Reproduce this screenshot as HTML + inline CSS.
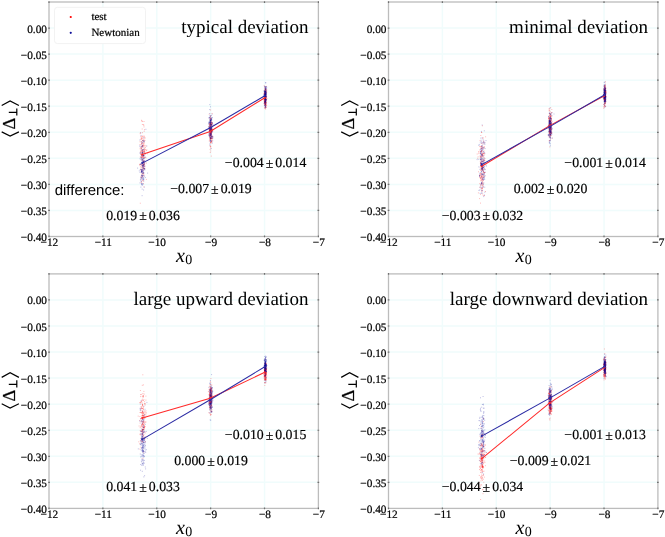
<!DOCTYPE html><html><head><meta charset="utf-8"><style>html,body{margin:0;padding:0;background:#fff;}svg{display:block;will-change:transform;}text{font-family:"Liberation Serif",serif;text-rendering:geometricPrecision;}.b{stroke:#000;stroke-width:0.25px;}.s{stroke:#000;stroke-width:0.18px;}.t{stroke:#000;stroke-width:0.22px;}</style></head><body>
<svg width="665" height="537" viewBox="0 0 665 537">
<rect width="665" height="537" fill="#fff"/>
<g transform="translate(0,0)">
<path d="M102.88 2.0V236.5M156.76 2.0V236.5M210.64 2.0V236.5M264.52 2.0V236.5M49.0 28.06H318.4M49.0 54.11H318.4M49.0 80.17H318.4M49.0 106.22H318.4M49.0 132.28H318.4M49.0 158.33H318.4M49.0 184.39H318.4M49.0 210.44H318.4" stroke="#f0fcfc" stroke-width="1.5" fill="none"/>
<path d="M140.4 159.8h1M143.7 147.3h1M140.2 153.6h1M142.9 169.9h1M140.4 136.4h1M143.3 161.1h1M144.5 168.3h1M142.0 150.7h1M146.1 150.5h1M141.0 138.6h1M142.3 156.5h1M141.7 153.6h1M142.6 164.2h1M143.8 157.4h1M139.5 164.3h1M140.1 152.1h1M140.0 154.5h1M141.0 157.5h1M147.2 153.8h1M143.5 136.0h1M141.8 163.8h1M142.1 159.7h1M142.4 140.4h1M143.0 143.1h1M145.0 147.4h1M143.2 154.5h1M143.6 146.1h1M143.7 152.8h1M144.1 163.2h1M142.4 143.6h1M143.4 161.1h1M144.7 149.2h1M143.0 161.6h1M142.6 157.4h1M142.5 146.1h1M140.7 148.9h1M143.1 175.7h1M143.7 169.2h1M143.4 164.3h1M142.5 165.3h1M144.9 149.9h1M141.2 181.9h1M142.6 168.1h1M143.5 138.6h1M145.9 179.4h1M142.5 165.0h1M142.4 142.1h1M142.0 159.7h1M143.9 164.4h1M142.3 173.5h1M141.1 165.6h1M143.9 150.4h1M139.5 141.8h1M142.6 161.9h1M144.5 140.4h1M142.2 163.6h1M142.0 121.3h1M143.4 186.9h1M143.7 141.7h1M141.6 157.6h1M145.9 163.1h1M142.4 176.3h1M142.1 180.6h1M141.2 147.9h1M143.3 174.4h1M143.2 158.7h1M139.5 144.5h1M141.3 147.0h1M143.1 149.8h1M143.4 155.7h1M141.7 156.2h1M142.8 166.5h1M141.5 151.2h1M140.2 177.0h1M144.4 152.0h1M141.5 137.2h1M142.5 157.4h1M145.5 157.9h1M141.0 120.3h1M144.3 157.2h1M139.8 157.0h1M139.8 203.2h1M143.9 162.5h1M141.9 124.5h1M142.0 132.7h1M143.1 124.6h1M140.8 171.6h1M144.7 138.0h1M139.9 166.8h1M143.5 140.7h1M141.2 144.8h1M140.4 145.0h1M144.1 164.2h1M145.3 153.3h1M142.0 140.7h1M142.0 136.1h1M139.5 164.3h1M144.4 166.2h1M144.2 158.0h1M141.1 155.7h1M141.6 138.9h1M139.7 133.7h1M142.2 156.6h1M141.5 174.5h1M142.5 162.7h1M144.0 143.0h1M139.2 165.0h1M141.2 172.9h1M142.7 168.6h1M143.3 125.4h1M143.3 145.1h1M141.1 148.4h1M143.4 166.9h1M143.7 131.3h1M141.3 121.2h1M142.0 162.9h1M141.1 157.9h1M142.5 168.6h1M141.0 142.9h1M141.1 179.0h1M143.8 152.8h1M142.5 156.1h1M142.5 151.6h1M141.7 136.9h1M141.2 177.6h1M143.0 155.4h1M141.9 155.4h1M142.7 145.5h1M142.5 157.9h1M141.1 143.5h1M140.7 139.6h1M143.5 121.5h1M141.8 145.9h1M141.3 155.9h1M143.9 155.6h1M142.0 145.9h1M142.0 167.3h1M141.6 138.4h1M140.3 139.0h1M140.1 169.9h1M142.7 151.2h1M144.4 145.3h1M143.3 165.7h1M139.9 132.7h1M140.8 167.2h1M144.1 137.3h1M143.8 149.1h1M141.6 146.8h1M141.7 129.0h1M140.7 137.2h1M142.9 183.7h1M146.3 149.8h1M139.6 148.8h1M140.8 182.3h1M143.1 144.3h1M143.6 162.0h1M139.8 147.1h1M141.8 154.8h1M142.4 149.8h1M142.5 146.3h1M140.9 175.7h1M142.7 160.6h1M139.8 152.2h1M143.4 136.4h1M143.8 149.0h1M142.8 152.6h1M142.5 171.3h1M141.6 176.4h1M141.0 141.5h1M143.3 139.6h1M141.6 167.2h1M144.0 129.7h1M143.0 180.9h1M144.0 151.1h1M141.3 150.3h1M140.5 150.8h1M141.9 152.5h1M144.0 151.3h1M140.0 169.2h1M140.6 148.2h1M142.0 149.7h1M140.7 151.0h1M145.5 146.0h1M142.0 170.2h1M143.3 165.2h1M143.5 126.9h1M140.9 156.3h1M142.9 172.6h1M142.9 151.2h1M142.3 151.5h1M142.6 163.9h1M141.7 143.1h1M140.9 169.9h1M144.1 168.4h1M143.5 166.2h1M142.2 163.8h1M140.6 151.7h1M141.1 164.7h1M141.3 153.0h1M142.8 173.5h1M209.5 124.9h1M210.9 123.8h1M210.6 127.5h1M210.1 118.8h1M210.8 128.0h1M209.4 146.0h1M210.8 156.1h1M210.5 129.1h1M210.3 142.7h1M210.2 134.7h1M210.6 125.1h1M210.3 128.0h1M209.1 137.6h1M210.8 132.0h1M209.4 117.5h1M210.6 130.8h1M208.8 131.1h1M208.9 131.3h1M210.3 134.0h1M210.4 132.7h1M209.2 128.8h1M209.8 129.9h1M210.4 135.8h1M211.6 113.5h1M210.5 130.1h1M212.1 138.0h1M208.8 134.3h1M209.8 138.5h1M209.3 130.8h1M210.1 130.8h1M209.7 118.6h1M210.6 138.5h1M210.1 124.4h1M210.4 135.5h1M210.1 131.4h1M211.4 123.7h1M209.7 118.2h1M209.6 126.3h1M209.4 126.6h1M211.7 130.1h1M210.1 146.9h1M210.1 119.4h1M210.5 124.9h1M211.6 122.8h1M209.7 120.3h1M210.3 124.4h1M210.1 128.9h1M209.7 138.1h1M211.0 131.9h1M209.4 124.0h1M210.4 148.2h1M209.8 126.0h1M209.6 123.8h1M209.4 130.1h1M211.4 131.5h1M209.8 120.2h1M210.4 131.3h1M209.2 123.9h1M210.2 138.6h1M210.7 132.9h1M209.9 133.7h1M210.2 146.7h1M209.2 128.9h1M211.3 129.6h1M211.4 131.2h1M210.3 128.9h1M209.0 124.7h1M212.1 136.0h1M210.7 138.2h1M210.7 138.7h1M210.0 129.9h1M211.0 129.0h1M209.1 129.9h1M209.7 135.8h1M209.6 124.1h1M209.9 142.4h1M210.2 132.6h1M210.2 133.6h1M211.0 141.3h1M208.8 141.0h1M210.2 129.3h1M212.2 130.3h1M211.9 138.3h1M209.3 134.9h1M210.8 130.6h1M208.2 129.1h1M210.0 123.7h1M211.8 129.8h1M209.9 129.4h1M209.5 126.1h1M210.3 133.7h1M209.8 130.9h1M209.0 135.2h1M209.6 133.0h1M209.4 127.9h1M210.4 123.0h1M212.3 131.2h1M210.1 126.4h1M211.6 141.2h1M210.5 121.9h1M209.8 135.8h1M209.8 123.2h1M209.2 126.1h1M210.2 127.0h1M210.2 151.0h1M211.7 124.2h1M210.5 132.1h1M210.1 138.8h1M209.9 129.2h1M209.9 130.8h1M211.3 136.9h1M209.1 128.4h1M209.5 137.2h1M210.4 137.7h1M210.1 118.1h1M210.6 133.1h1M210.6 122.4h1M210.3 126.7h1M209.6 134.0h1M210.5 125.3h1M208.7 114.2h1M209.7 139.4h1M210.2 115.7h1M209.5 134.5h1M211.6 139.7h1M210.5 132.9h1M209.3 128.3h1M209.9 126.1h1M210.3 128.8h1M210.5 141.5h1M210.8 134.4h1M210.0 120.9h1M210.1 135.3h1M209.3 140.3h1M209.9 134.1h1M209.9 122.7h1M212.0 123.4h1M211.0 127.6h1M210.4 125.9h1M209.8 137.9h1M211.9 125.6h1M210.2 138.1h1M209.7 136.5h1M209.5 135.7h1M210.6 140.0h1M210.5 123.1h1M210.8 123.8h1M210.8 142.1h1M210.7 127.6h1M211.2 132.7h1M209.1 129.0h1M211.4 129.4h1M210.3 129.1h1M208.8 127.9h1M210.5 133.0h1M210.1 116.6h1M211.2 136.5h1M211.1 140.6h1M209.8 127.3h1M210.5 143.2h1M208.8 129.9h1M209.6 135.4h1M211.4 129.4h1M209.1 131.8h1M210.0 120.7h1M211.0 127.8h1M210.8 122.3h1M211.1 121.4h1M211.1 118.8h1M211.4 128.9h1M208.9 129.9h1M210.5 124.6h1M209.8 133.4h1M210.1 110.0h1M209.8 134.5h1M210.5 138.6h1M209.6 149.4h1M210.9 133.7h1M211.1 138.2h1M210.3 127.2h1M211.1 134.5h1M208.6 123.8h1M210.6 132.3h1M210.4 136.0h1M210.3 142.6h1M209.7 128.7h1M210.5 136.7h1M210.9 141.9h1M209.8 139.7h1M210.6 124.2h1M210.1 146.1h1M210.9 128.2h1M208.2 126.4h1M209.6 132.0h1M212.2 136.7h1M210.5 125.0h1M209.2 130.0h1M209.8 152.5h1M209.9 127.2h1M211.2 132.0h1M264.1 104.1h1M264.6 91.1h1M265.0 100.1h1M264.6 101.2h1M265.3 93.3h1M263.7 85.7h1M264.7 103.9h1M265.4 104.7h1M265.8 97.8h1M265.4 90.1h1M265.2 99.7h1M264.7 95.5h1M264.2 98.4h1M265.5 95.9h1M265.1 94.4h1M264.9 92.7h1M265.0 96.6h1M265.0 94.7h1M264.2 96.1h1M265.4 105.6h1M264.6 101.7h1M265.2 99.7h1M263.9 99.3h1M264.3 103.6h1M265.2 100.8h1M263.4 100.8h1M265.2 91.3h1M265.3 98.1h1M264.7 94.1h1M264.2 95.5h1M266.5 98.7h1M264.9 94.5h1M264.5 94.9h1M264.3 102.1h1M264.7 102.0h1M264.2 102.3h1M264.8 101.0h1M264.7 93.3h1M265.5 95.5h1M264.7 93.3h1M264.9 95.8h1M265.0 99.4h1M264.4 90.6h1M265.0 102.3h1M265.2 92.0h1M265.1 99.6h1M265.0 99.8h1M264.6 98.8h1M265.3 95.2h1M264.0 97.2h1M264.9 88.5h1M264.4 100.6h1M264.7 98.2h1M264.1 102.2h1M265.8 96.7h1M264.4 91.9h1M265.3 98.2h1M264.4 103.8h1M265.2 100.7h1M263.8 97.2h1M265.1 91.6h1M265.3 104.9h1M265.4 94.1h1M264.4 102.4h1M265.3 103.8h1M265.5 97.2h1M264.6 88.4h1M265.2 109.1h1M264.5 95.3h1M265.2 99.6h1M264.0 94.1h1M264.2 107.8h1M264.4 102.0h1M265.9 107.2h1M265.6 105.8h1M264.1 96.0h1M264.4 96.2h1M266.2 89.3h1M265.1 91.5h1M265.5 104.2h1M264.5 108.0h1M264.8 104.2h1M265.0 94.9h1M264.6 97.1h1M265.1 98.3h1M266.1 96.7h1M264.5 94.1h1M264.4 90.5h1M264.3 102.2h1M264.8 96.8h1M265.0 103.0h1M265.1 101.6h1M264.5 96.4h1M264.4 97.2h1M264.4 95.8h1M264.7 96.6h1M264.7 95.2h1M265.5 96.0h1M264.2 98.7h1M264.2 92.3h1M264.8 89.4h1M263.0 99.1h1M265.4 89.3h1M264.3 100.6h1M263.7 93.3h1M264.1 96.7h1M263.7 102.2h1M264.7 99.2h1M264.6 87.1h1M264.7 91.0h1M264.8 93.4h1M264.6 96.6h1M265.2 101.5h1M264.2 97.6h1M265.6 100.2h1M264.4 97.1h1M264.6 102.4h1M264.8 99.6h1M266.0 90.8h1M264.2 89.0h1M263.9 102.0h1M265.0 105.9h1M263.7 93.3h1M265.6 102.8h1M265.3 102.1h1M264.8 97.6h1M264.8 101.9h1M264.7 99.3h1M265.6 92.1h1M264.4 100.5h1M264.7 96.9h1M266.0 99.8h1M264.6 103.2h1M266.2 92.2h1M264.4 98.3h1M264.5 108.6h1M265.1 95.7h1M265.1 93.7h1M264.5 98.2h1M266.1 86.4h1M265.0 104.5h1M265.2 107.3h1M265.0 98.4h1M264.7 93.4h1M265.7 91.8h1M264.7 95.1h1M264.4 86.6h1M264.6 98.4h1M264.9 101.9h1M264.7 94.5h1M265.0 101.0h1M264.3 90.1h1M264.2 103.0h1M265.3 93.3h1M264.9 101.9h1M265.5 94.4h1M264.7 104.7h1M266.1 105.3h1M264.2 99.9h1M264.6 97.4h1M264.4 95.3h1M264.8 106.7h1M265.2 99.8h1M264.8 93.9h1M264.7 103.9h1M265.3 107.5h1M264.9 97.6h1M263.9 99.7h1M263.9 105.3h1M264.5 97.7h1M264.1 95.2h1M264.3 103.4h1M264.9 91.8h1M263.7 97.4h1M264.5 92.1h1M265.1 96.8h1M264.9 94.7h1M264.5 95.4h1M263.9 100.8h1M265.0 89.1h1M264.9 103.5h1M264.9 104.2h1M264.7 97.7h1M264.1 93.2h1M263.8 93.2h1M264.9 100.3h1M265.4 98.4h1M264.3 99.9h1M264.7 106.6h1M265.9 102.5h1M264.2 95.1h1M264.9 94.1h1M265.1 101.1h1M265.3 98.8h1M264.3 93.5h1M264.7 104.3h1M265.7 102.6h1M265.0 101.1h1M265.3 104.2h1M265.3 90.0h1" stroke="#ff0000" stroke-opacity="0.3" stroke-width="0.9" fill="none"/>
<path d="M143.6 168.5h1M141.5 170.5h1M142.6 162.3h1M139.7 164.7h1M143.0 162.4h1M139.8 169.5h1M143.3 165.6h1M142.8 158.2h1M141.2 170.4h1M141.7 165.7h1M147.1 173.1h1M142.4 140.4h1M142.3 173.7h1M141.1 159.8h1M138.8 170.9h1M141.3 172.7h1M144.2 160.8h1M143.7 166.6h1M141.9 159.2h1M140.9 181.1h1M143.5 149.0h1M143.5 152.9h1M139.9 179.9h1M140.3 179.7h1M142.5 175.7h1M143.0 179.3h1M142.7 171.2h1M142.6 178.4h1M141.6 177.3h1M144.5 162.2h1M142.9 155.9h1M141.8 166.8h1M141.7 150.7h1M142.2 165.8h1M142.7 173.0h1M139.5 182.9h1M141.9 152.3h1M141.6 169.3h1M143.5 158.0h1M142.4 140.8h1M142.5 161.5h1M141.6 175.5h1M144.9 177.6h1M141.0 184.5h1M141.7 162.5h1M141.3 169.5h1M143.0 165.1h1M141.9 161.1h1M141.6 176.7h1M141.4 161.0h1M141.9 152.6h1M141.9 142.6h1M142.8 170.7h1M141.8 184.8h1M141.0 170.9h1M142.9 155.6h1M141.8 175.5h1M142.3 167.0h1M144.3 166.1h1M139.7 152.8h1M143.4 161.3h1M140.6 135.5h1M142.7 184.0h1M140.3 132.9h1M142.9 155.6h1M141.8 158.6h1M140.9 169.2h1M143.6 168.2h1M141.4 177.6h1M142.0 171.2h1M140.8 172.2h1M143.3 181.0h1M142.2 169.3h1M141.3 175.4h1M143.4 178.1h1M141.6 146.2h1M142.1 160.2h1M141.1 171.5h1M143.6 168.6h1M143.9 168.6h1M140.8 155.0h1M141.7 172.6h1M143.6 165.0h1M143.7 151.7h1M142.0 183.8h1M142.9 177.6h1M139.4 140.0h1M140.9 177.0h1M144.6 154.6h1M140.7 149.1h1M140.9 170.8h1M141.7 189.1h1M143.3 153.7h1M142.6 161.0h1M143.4 175.6h1M141.7 175.4h1M143.0 162.0h1M142.6 172.5h1M141.7 153.8h1M144.1 163.2h1M141.3 169.5h1M140.0 163.9h1M140.2 157.3h1M139.6 153.3h1M143.5 160.6h1M140.4 187.1h1M141.3 183.6h1M141.4 143.0h1M144.9 157.2h1M143.3 179.5h1M140.3 164.2h1M141.4 171.5h1M142.2 145.8h1M142.3 173.7h1M141.8 170.9h1M141.4 162.5h1M142.7 165.1h1M144.1 176.2h1M143.4 173.1h1M142.4 147.2h1M143.8 187.1h1M142.5 159.7h1M142.2 179.8h1M142.6 149.7h1M142.0 152.7h1M141.9 150.9h1M140.9 183.5h1M143.7 141.1h1M140.8 157.1h1M141.6 144.3h1M143.5 141.1h1M143.2 172.7h1M141.7 154.2h1M142.3 165.2h1M139.1 146.0h1M143.0 161.7h1M141.6 149.6h1M141.2 152.8h1M146.3 146.0h1M144.5 169.8h1M142.5 165.9h1M141.7 185.2h1M143.0 162.8h1M142.0 165.9h1M140.5 158.9h1M141.3 171.7h1M143.1 137.7h1M141.9 176.7h1M140.3 147.0h1M143.7 161.4h1M141.6 146.6h1M142.5 155.6h1M142.5 169.0h1M143.2 158.8h1M141.4 163.6h1M142.1 165.6h1M141.4 160.0h1M141.4 155.2h1M142.4 179.0h1M141.4 171.2h1M142.7 164.7h1M143.2 155.6h1M143.0 167.3h1M137.1 168.1h1M143.1 190.0h1M140.7 164.5h1M142.7 149.9h1M144.0 169.4h1M141.0 146.8h1M141.6 195.7h1M145.4 129.3h1M139.5 172.4h1M142.1 154.5h1M143.1 164.5h1M142.6 166.8h1M140.6 181.3h1M141.5 178.7h1M143.2 163.7h1M142.4 162.6h1M139.5 158.8h1M142.8 141.1h1M140.0 178.0h1M143.4 142.0h1M142.9 162.5h1M143.6 158.7h1M141.9 152.9h1M142.5 161.5h1M141.2 158.4h1M141.1 171.8h1M140.7 141.8h1M140.8 178.1h1M141.5 172.1h1M143.3 156.2h1M143.3 170.1h1M142.1 153.5h1M142.1 145.5h1M141.8 155.2h1M142.9 167.9h1M141.3 175.1h1M144.0 164.1h1M209.6 131.3h1M208.2 123.8h1M210.7 141.6h1M209.6 138.4h1M212.2 140.8h1M208.2 135.4h1M210.4 134.8h1M210.1 123.6h1M210.0 138.2h1M210.9 125.8h1M210.5 133.8h1M210.7 127.5h1M209.7 122.7h1M209.8 124.0h1M208.9 118.0h1M210.9 120.1h1M209.1 127.5h1M211.4 136.6h1M209.9 120.7h1M209.8 121.5h1M209.7 131.2h1M209.3 122.4h1M210.0 127.6h1M209.6 122.3h1M209.2 122.6h1M210.6 126.1h1M207.6 132.1h1M210.1 121.8h1M210.0 106.8h1M208.8 135.9h1M212.0 143.0h1M209.6 128.1h1M210.9 119.3h1M211.7 122.8h1M210.5 119.8h1M210.5 127.7h1M211.1 119.8h1M210.2 140.5h1M209.2 130.3h1M210.6 124.3h1M210.0 137.7h1M211.2 131.8h1M210.4 119.9h1M210.3 140.3h1M211.1 118.3h1M208.4 123.2h1M210.3 124.0h1M209.9 130.2h1M211.0 129.3h1M211.3 117.8h1M210.6 130.8h1M208.9 136.6h1M208.8 117.7h1M212.5 136.9h1M210.5 137.3h1M211.2 119.9h1M210.6 137.6h1M210.1 128.3h1M209.8 133.0h1M209.7 123.7h1M209.2 121.3h1M210.4 131.1h1M209.9 120.4h1M210.5 130.3h1M211.3 124.3h1M209.8 131.4h1M211.5 127.5h1M210.1 121.2h1M209.9 134.5h1M210.9 135.7h1M208.8 133.7h1M209.4 132.0h1M208.2 127.1h1M209.4 136.8h1M210.3 137.0h1M209.8 141.7h1M209.8 141.2h1M209.8 120.9h1M211.0 125.0h1M210.2 118.3h1M209.9 128.6h1M209.6 130.6h1M208.2 134.1h1M209.9 138.2h1M209.9 123.2h1M209.8 129.8h1M210.7 124.5h1M209.5 130.9h1M210.9 115.5h1M209.3 123.1h1M211.7 136.5h1M210.9 131.3h1M209.2 135.8h1M209.8 122.2h1M211.9 117.6h1M211.4 129.2h1M209.4 129.1h1M209.5 129.1h1M209.6 119.4h1M212.5 124.3h1M211.1 127.5h1M210.8 118.9h1M209.3 104.6h1M211.1 131.0h1M209.2 133.7h1M210.7 148.6h1M210.4 134.3h1M210.7 133.3h1M210.2 124.9h1M210.8 136.6h1M209.2 119.8h1M210.2 140.6h1M210.0 115.8h1M210.9 133.2h1M211.9 129.2h1M211.9 122.7h1M211.0 128.8h1M209.2 125.9h1M211.3 135.7h1M209.9 135.7h1M211.0 134.2h1M210.5 130.0h1M209.5 127.4h1M210.3 122.6h1M210.0 129.0h1M210.4 135.3h1M209.3 125.0h1M210.4 125.2h1M210.5 124.5h1M211.2 126.2h1M209.2 133.1h1M211.6 114.2h1M210.1 128.3h1M211.1 138.4h1M210.1 116.8h1M210.8 135.0h1M210.6 128.4h1M209.5 145.1h1M209.2 117.2h1M211.0 129.9h1M210.8 130.4h1M211.7 137.9h1M209.7 134.9h1M209.2 115.8h1M211.2 124.8h1M208.4 127.7h1M209.6 131.4h1M210.2 122.4h1M209.6 133.3h1M209.4 128.8h1M209.4 131.0h1M211.7 131.9h1M211.2 131.0h1M209.4 125.7h1M210.3 131.0h1M209.7 132.2h1M209.6 128.3h1M210.2 119.7h1M211.1 128.2h1M210.3 127.6h1M208.4 117.9h1M209.4 134.9h1M209.7 132.1h1M209.3 121.9h1M209.8 135.3h1M208.8 126.6h1M210.6 128.8h1M210.2 133.4h1M210.5 120.7h1M210.7 122.3h1M209.9 138.1h1M212.3 138.1h1M210.6 122.4h1M209.6 139.6h1M210.5 118.1h1M211.6 131.9h1M211.3 130.7h1M208.4 122.6h1M210.1 126.7h1M211.5 123.1h1M210.1 127.4h1M210.1 120.5h1M209.2 109.6h1M210.5 126.4h1M210.4 120.4h1M210.2 121.0h1M209.3 130.2h1M210.8 132.0h1M210.2 125.1h1M211.4 136.6h1M209.7 120.2h1M210.5 130.1h1M209.4 143.9h1M208.4 122.0h1M210.4 134.8h1M208.6 124.8h1M211.4 137.8h1M210.0 128.1h1M209.4 130.6h1M209.3 113.5h1M264.0 96.1h1M264.1 101.4h1M265.5 100.9h1M265.2 101.5h1M265.0 100.2h1M265.1 99.8h1M264.2 92.5h1M264.3 100.0h1M265.1 91.9h1M264.3 92.9h1M265.3 95.3h1M264.7 92.4h1M264.7 103.9h1M264.4 94.1h1M265.7 99.5h1M264.2 101.3h1M264.1 98.6h1M263.4 90.8h1M265.3 92.8h1M264.4 96.1h1M264.8 93.5h1M264.4 104.9h1M265.6 97.5h1M264.2 93.2h1M264.6 98.3h1M265.7 93.2h1M264.9 93.7h1M264.9 92.4h1M265.0 101.7h1M264.6 94.2h1M264.9 89.2h1M265.8 89.1h1M264.6 91.4h1M265.6 93.4h1M264.5 105.3h1M264.7 91.9h1M264.8 96.8h1M264.4 94.9h1M264.7 99.5h1M265.2 100.0h1M264.7 99.9h1M264.7 101.7h1M265.0 93.7h1M265.5 88.2h1M264.3 91.8h1M264.7 89.6h1M264.1 86.3h1M264.9 92.0h1M266.0 99.7h1M264.2 102.5h1M264.9 101.3h1M264.2 101.7h1M265.4 93.7h1M264.3 93.9h1M265.0 108.0h1M265.8 103.4h1M264.7 94.2h1M265.0 94.5h1M264.5 94.8h1M265.3 95.5h1M264.9 94.5h1M264.7 94.2h1M265.5 97.0h1M265.6 95.0h1M265.4 88.9h1M264.6 95.5h1M264.5 95.3h1M264.3 95.0h1M264.4 95.8h1M264.6 90.8h1M264.6 96.0h1M264.1 96.3h1M265.5 94.7h1M265.1 99.0h1M264.4 102.5h1M266.2 90.7h1M266.0 92.3h1M265.6 86.7h1M265.4 96.5h1M264.1 91.7h1M264.2 91.3h1M265.0 94.9h1M263.4 94.3h1M265.1 96.3h1M265.7 86.6h1M264.9 96.0h1M265.2 89.1h1M264.1 95.0h1M264.8 86.7h1M265.0 95.8h1M265.2 82.7h1M265.1 91.4h1M264.5 99.8h1M265.7 96.6h1M264.7 102.4h1M264.3 95.1h1M264.5 90.9h1M264.9 106.1h1M264.9 98.3h1M264.8 101.5h1M264.9 91.4h1M264.9 103.1h1M264.8 101.9h1M264.8 106.0h1M265.0 99.1h1M264.6 100.0h1M264.7 88.4h1M265.0 89.8h1M265.6 99.8h1M264.8 99.3h1M263.4 103.6h1M264.4 99.2h1M266.2 87.7h1M264.6 97.6h1M265.0 87.3h1M264.3 103.3h1M264.5 98.6h1M264.0 91.3h1M263.8 97.2h1M265.4 96.3h1M264.7 97.1h1M265.1 94.4h1M265.1 105.7h1M266.0 93.0h1M264.1 105.5h1M265.3 102.0h1M265.1 94.7h1M265.3 101.5h1M265.5 90.4h1M265.4 94.1h1M264.6 97.6h1M264.6 107.5h1M265.1 97.2h1M264.7 97.1h1M264.7 98.8h1M265.3 100.1h1M264.1 94.2h1M264.9 89.7h1M265.0 95.1h1M264.8 97.8h1M264.5 103.7h1M265.4 93.1h1M265.1 99.6h1M264.4 94.1h1M265.2 82.9h1M264.1 97.5h1M265.1 91.2h1M265.3 107.0h1M264.9 95.6h1M264.8 90.8h1M265.1 96.8h1M265.2 103.0h1M264.8 96.8h1M265.0 104.6h1M264.0 95.8h1M264.5 96.5h1M265.3 96.2h1M265.2 96.8h1M264.4 92.5h1M264.0 97.0h1M264.6 100.1h1M265.3 91.4h1M264.2 98.9h1M264.3 96.9h1M265.1 93.9h1M265.8 92.0h1M265.0 93.8h1M263.2 95.0h1M264.7 98.8h1M264.7 92.2h1M264.5 94.3h1M265.2 94.5h1M265.5 100.2h1M264.4 101.0h1M263.6 96.0h1M264.3 95.4h1M265.4 95.9h1M264.7 102.3h1M264.4 91.7h1M265.3 98.9h1M264.0 96.6h1M265.2 95.0h1M264.6 96.5h1M264.9 92.3h1M265.3 87.9h1M264.8 106.6h1M264.2 95.7h1M263.6 91.7h1M264.2 96.2h1M264.5 105.1h1M264.3 95.7h1M264.9 99.1h1M265.3 88.0h1M266.0 94.3h1M264.4 87.6h1M264.6 87.0h1M264.9 92.8h1M265.0 91.9h1M264.8 107.0h1M265.5 96.7h1" stroke="#10109a" stroke-opacity="0.3" stroke-width="0.9" fill="none"/>
<path d="M142.20 154.50 L210.20 131.50 L264.80 97.70" stroke="#ff2a2a" stroke-width="1.05" fill="none"/>
<circle cx="142.20" cy="154.50" r="1.05" fill="#ff2a2a"/>
<circle cx="210.20" cy="131.50" r="1.05" fill="#ff2a2a"/>
<circle cx="264.80" cy="97.70" r="1.05" fill="#ff2a2a"/>
<path d="M142.20 163.10 L210.20 127.80 L264.80 95.80" stroke="#2c2ca4" stroke-width="1.05" fill="none"/>
<circle cx="142.20" cy="163.10" r="1.05" fill="#2c2ca4"/>
<circle cx="210.20" cy="127.80" r="1.05" fill="#2c2ca4"/>
<circle cx="264.80" cy="95.80" r="1.05" fill="#2c2ca4"/>
<rect x="49.0" y="2.0" width="269.40" height="234.50" fill="none" stroke="#bcbcbc" stroke-width="1.3"/>
<path d="M49.00 235.60V237.30M49.00 1.20V2.90M102.88 235.60V237.30M102.88 1.20V2.90M156.76 235.60V237.30M156.76 1.20V2.90M210.64 235.60V237.30M210.64 1.20V2.90M264.52 235.60V237.30M264.52 1.20V2.90M318.40 235.60V237.30M318.40 1.20V2.90M48.20 28.06H49.90M317.50 28.06H319.20M48.20 54.11H49.90M317.50 54.11H319.20M48.20 80.17H49.90M317.50 80.17H319.20M48.20 106.22H49.90M317.50 106.22H319.20M48.20 132.28H49.90M317.50 132.28H319.20M48.20 158.33H49.90M317.50 158.33H319.20M48.20 184.39H49.90M317.50 184.39H319.20M48.20 210.44H49.90M317.50 210.44H319.20" stroke="#707070" stroke-width="1.2" fill="none"/>
<text x="47.0" y="32.56" font-size="11.3" text-anchor="end" class="t" fill="#000">0.00</text>
<text x="47.0" y="58.61" font-size="11.3" text-anchor="end" class="t" fill="#000">−0.05</text>
<text x="47.0" y="84.67" font-size="11.3" text-anchor="end" class="t" fill="#000">−0.10</text>
<text x="47.0" y="110.72" font-size="11.3" text-anchor="end" class="t" fill="#000">−0.15</text>
<text x="47.0" y="136.78" font-size="11.3" text-anchor="end" class="t" fill="#000">−0.20</text>
<text x="47.0" y="162.83" font-size="11.3" text-anchor="end" class="t" fill="#000">−0.25</text>
<text x="47.0" y="188.89" font-size="11.3" text-anchor="end" class="t" fill="#000">−0.30</text>
<text x="47.0" y="214.94" font-size="11.3" text-anchor="end" class="t" fill="#000">−0.35</text>
<text x="47.0" y="241.00" font-size="11.3" text-anchor="end" class="t" fill="#000">−0.40</text>
<text x="49.40" y="245.80" font-size="11.3" text-anchor="middle" class="t" fill="#000">−12</text>
<text x="103.28" y="245.80" font-size="11.3" text-anchor="middle" class="t" fill="#000">−11</text>
<text x="157.16" y="245.80" font-size="11.3" text-anchor="middle" class="t" fill="#000">−10</text>
<text x="211.04" y="245.80" font-size="11.3" text-anchor="middle" class="t" fill="#000">−9</text>
<text x="264.92" y="245.80" font-size="11.3" text-anchor="middle" class="t" fill="#000">−8</text>
<text x="318.80" y="245.80" font-size="11.3" text-anchor="middle" class="t" fill="#000">−7</text>
<text x="176.10" y="262.10" font-size="20" font-style="italic" fill="#000">x</text>
<text x="185.30" y="264.30" font-size="14" fill="#000">0</text>
<g stroke="#000" fill="none" stroke-width="1.2"><path d="M1.7 105.5L10.1 100.9L18.9 105.5"/><path d="M1.7 131.9L10.1 136.1L18.9 131.9"/><path d="M8.8 112.4H16.8M16.8 108.4V115.6"/></g>
<text class="b" transform="translate(14.9,129.6) rotate(-90)" font-size="18.2" fill="#000">Δ</text>
<text x="308.40" y="33.30" font-size="19" text-anchor="end" fill="#000">typical deviation</text>
<text x="143.00" y="219.54" font-size="13.8" text-anchor="middle" class="s" fill="#000">0.019<tspan dx="2" dy="0.8">±</tspan><tspan dx="2" dy="-0.8">0.036</tspan></text>
<text x="211.00" y="193.49" font-size="13.8" text-anchor="middle" class="s" fill="#000">−0.007<tspan dx="2" dy="0.8">±</tspan><tspan dx="2" dy="-0.8">0.019</tspan></text>
<text x="265.60" y="167.43" font-size="13.8" text-anchor="middle" class="s" fill="#000">−0.004<tspan dx="2" dy="0.8">±</tspan><tspan dx="2" dy="-0.8">0.014</tspan></text>
<rect x="54.5" y="7.3" width="91" height="36.3" rx="3" fill="#fff" stroke="#f2f2f2" stroke-width="1"/>
<circle cx="70.75" cy="17" r="1.1" fill="#ff0000"/>
<circle cx="70.75" cy="32.8" r="1.1" fill="#10109a"/>
<text x="91.4" y="20" font-size="11" class="t" fill="#000">test</text>
<text x="91.4" y="36.3" font-size="11" class="t" fill="#000">Newtonian</text>
<text x="54.7" y="194.6" font-size="15" fill="#000" style="font-family:'Liberation Sans',sans-serif">difference:</text>
</g>
<g transform="translate(339.5,0)">
<path d="M102.88 2.0V236.5M156.76 2.0V236.5M210.64 2.0V236.5M264.52 2.0V236.5M49.0 28.06H318.4M49.0 54.11H318.4M49.0 80.17H318.4M49.0 106.22H318.4M49.0 132.28H318.4M49.0 158.33H318.4M49.0 184.39H318.4M49.0 210.44H318.4" stroke="#f0fcfc" stroke-width="1.5" fill="none"/>
<path d="M140.7 187.0h1M139.7 146.6h1M144.2 158.0h1M144.2 174.5h1M145.5 191.5h1M143.1 157.6h1M143.1 186.1h1M142.4 125.8h1M141.6 161.2h1M142.1 161.5h1M143.9 148.6h1M142.9 138.5h1M138.9 152.2h1M141.1 153.8h1M141.2 175.0h1M143.1 167.5h1M142.5 156.6h1M140.7 146.4h1M141.6 150.5h1M141.7 176.5h1M143.0 185.0h1M140.8 135.5h1M140.5 194.3h1M143.3 160.2h1M144.2 160.5h1M144.7 160.7h1M141.6 176.1h1M140.5 164.0h1M145.1 172.5h1M140.5 162.8h1M142.2 155.7h1M142.8 183.8h1M142.3 178.8h1M142.6 168.3h1M141.1 179.8h1M144.2 160.0h1M140.9 173.6h1M142.4 182.1h1M142.9 164.5h1M140.1 175.0h1M142.3 148.5h1M140.0 140.7h1M143.1 160.2h1M137.2 154.0h1M141.2 164.7h1M142.3 161.5h1M143.3 180.7h1M141.9 188.4h1M142.0 154.2h1M142.4 146.2h1M141.7 151.4h1M141.6 169.0h1M138.5 171.8h1M142.6 163.2h1M143.3 171.1h1M141.6 152.2h1M143.3 176.9h1M140.0 156.0h1M140.4 177.9h1M141.3 148.7h1M144.5 172.6h1M142.5 169.7h1M141.9 166.7h1M143.5 172.5h1M141.5 167.6h1M145.0 158.5h1M140.2 167.9h1M140.5 203.1h1M143.1 174.5h1M142.7 193.9h1M140.7 165.5h1M139.7 183.7h1M142.1 191.1h1M141.8 151.6h1M141.1 177.5h1M141.0 169.8h1M141.1 156.2h1M141.3 189.0h1M140.6 170.7h1M143.4 155.7h1M139.9 187.3h1M144.8 162.7h1M140.4 178.4h1M142.1 154.6h1M141.6 132.5h1M141.0 149.0h1M140.2 174.4h1M142.6 190.0h1M138.1 156.8h1M140.9 184.8h1M143.7 167.8h1M142.3 155.5h1M141.4 159.8h1M138.4 192.9h1M143.3 195.5h1M144.0 173.1h1M143.4 142.3h1M140.6 178.1h1M141.6 143.3h1M142.2 147.9h1M142.2 188.2h1M140.5 159.7h1M143.0 165.7h1M142.5 154.1h1M141.7 132.4h1M141.9 184.2h1M140.5 163.4h1M143.2 183.3h1M143.9 153.5h1M141.5 190.9h1M141.5 170.1h1M140.9 156.7h1M137.7 158.3h1M138.8 151.6h1M140.7 185.2h1M143.3 171.7h1M141.4 146.3h1M142.9 154.2h1M142.0 179.3h1M141.9 165.6h1M140.7 180.8h1M143.0 176.0h1M144.6 142.9h1M142.2 175.1h1M142.7 170.3h1M142.9 144.2h1M142.0 182.5h1M142.1 163.2h1M143.4 141.1h1M142.8 187.5h1M141.8 154.2h1M143.0 159.5h1M140.9 168.3h1M139.6 175.4h1M140.3 158.1h1M143.3 165.5h1M142.6 185.5h1M144.5 195.6h1M141.3 179.0h1M139.6 177.3h1M144.1 155.6h1M142.9 177.8h1M141.9 156.9h1M144.5 147.2h1M142.4 179.5h1M142.5 188.4h1M144.4 172.6h1M144.9 176.6h1M140.3 161.3h1M142.6 168.7h1M139.6 198.6h1M139.8 149.9h1M142.8 168.8h1M144.5 169.1h1M142.7 176.3h1M141.0 147.6h1M141.5 180.4h1M141.7 183.7h1M141.3 176.7h1M142.2 177.9h1M142.2 168.8h1M141.5 183.7h1M142.1 173.1h1M143.2 153.3h1M140.9 165.4h1M144.1 151.0h1M140.6 152.0h1M141.6 150.9h1M140.9 173.5h1M140.5 165.9h1M140.4 163.2h1M143.0 137.6h1M142.3 169.2h1M142.1 169.7h1M142.8 147.6h1M142.0 175.2h1M144.1 146.7h1M141.3 146.7h1M142.1 150.9h1M140.7 177.0h1M145.6 136.8h1M144.7 153.0h1M143.2 171.1h1M144.0 163.1h1M140.9 165.2h1M143.4 153.4h1M142.8 166.0h1M142.4 166.2h1M143.1 177.5h1M141.7 161.1h1M138.9 153.6h1M139.9 175.7h1M140.5 156.2h1M143.0 180.1h1M144.0 154.0h1M142.5 181.2h1M140.9 162.9h1M140.3 157.0h1M143.3 167.4h1M141.6 158.2h1M211.5 130.8h1M209.1 140.8h1M209.8 124.4h1M209.8 121.5h1M210.7 115.3h1M210.2 123.2h1M211.7 128.3h1M210.6 129.2h1M210.7 126.4h1M208.1 128.5h1M209.9 130.5h1M210.5 121.7h1M209.4 118.3h1M210.4 124.8h1M209.4 122.9h1M210.5 120.8h1M210.1 121.2h1M208.0 126.2h1M210.2 131.2h1M211.3 120.4h1M210.7 127.4h1M210.3 131.4h1M210.9 116.6h1M211.5 124.3h1M209.6 120.6h1M210.0 117.6h1M211.1 128.5h1M209.4 131.3h1M210.4 126.1h1M211.0 124.9h1M210.0 129.1h1M208.6 117.1h1M210.6 133.1h1M208.8 125.6h1M209.6 123.5h1M210.7 136.0h1M211.7 132.2h1M210.7 126.5h1M208.6 128.3h1M209.2 117.7h1M210.3 114.4h1M211.7 129.8h1M210.5 128.9h1M210.4 126.0h1M210.8 120.8h1M210.4 126.7h1M210.9 117.8h1M210.4 124.6h1M210.7 129.3h1M210.4 128.8h1M210.6 135.1h1M210.5 129.3h1M209.4 124.1h1M210.8 132.9h1M209.4 125.3h1M210.0 125.9h1M209.8 122.6h1M210.1 126.4h1M211.1 119.6h1M209.4 131.1h1M210.6 124.2h1M209.2 132.9h1M209.3 133.5h1M210.4 124.5h1M210.0 131.3h1M210.2 113.3h1M209.6 110.5h1M210.5 132.0h1M211.1 116.1h1M212.0 138.3h1M210.1 111.6h1M209.4 132.9h1M212.0 121.8h1M208.6 118.8h1M211.8 125.5h1M209.0 110.8h1M210.7 131.2h1M209.8 124.1h1M210.3 123.1h1M209.7 121.5h1M209.7 134.2h1M210.5 132.7h1M211.8 109.5h1M210.1 132.3h1M210.0 121.3h1M210.5 121.8h1M209.5 123.4h1M210.2 125.6h1M211.0 125.7h1M209.8 146.9h1M210.0 123.6h1M210.1 120.6h1M208.8 126.9h1M211.4 112.8h1M209.5 128.5h1M209.6 129.2h1M210.2 117.8h1M210.0 121.9h1M210.7 107.7h1M210.5 134.9h1M210.3 127.2h1M209.7 127.9h1M210.1 116.5h1M209.2 109.3h1M210.6 126.7h1M211.1 127.3h1M210.8 116.1h1M208.6 121.5h1M209.9 128.1h1M210.1 124.4h1M210.2 127.3h1M210.4 127.8h1M209.8 124.9h1M208.9 117.7h1M210.0 128.5h1M209.5 115.7h1M211.0 119.7h1M208.7 118.7h1M209.2 108.6h1M209.9 137.4h1M209.6 119.8h1M211.2 126.1h1M210.1 135.1h1M209.2 125.1h1M210.6 126.9h1M209.2 119.0h1M211.7 124.9h1M210.0 133.1h1M208.7 125.1h1M208.7 135.3h1M209.3 126.3h1M209.4 126.4h1M210.5 125.6h1M209.9 127.3h1M210.0 122.0h1M210.7 131.5h1M209.0 118.5h1M209.5 127.6h1M209.0 136.4h1M210.2 126.6h1M210.9 120.3h1M210.5 128.4h1M211.3 118.2h1M211.4 129.7h1M210.4 133.0h1M210.0 124.2h1M210.9 123.1h1M211.1 135.2h1M210.4 126.8h1M209.6 119.2h1M211.4 118.4h1M210.3 127.6h1M209.4 120.8h1M209.6 140.4h1M210.5 135.3h1M211.9 132.7h1M211.3 122.5h1M209.6 135.8h1M211.4 118.5h1M211.2 127.7h1M210.9 132.4h1M211.8 121.3h1M210.2 134.5h1M210.0 129.5h1M210.1 113.8h1M209.7 131.9h1M209.7 114.9h1M209.8 126.4h1M210.6 128.0h1M210.7 118.3h1M209.7 120.3h1M209.8 128.8h1M211.3 124.1h1M211.1 133.5h1M209.2 120.0h1M210.3 116.1h1M211.8 112.6h1M209.2 131.2h1M209.6 130.7h1M209.4 133.1h1M209.7 130.8h1M211.1 115.3h1M209.5 113.5h1M209.3 132.2h1M210.2 131.7h1M211.4 133.0h1M210.8 122.8h1M209.9 128.0h1M211.0 133.4h1M210.5 123.8h1M210.2 137.4h1M210.5 139.8h1M209.6 131.9h1M210.4 131.1h1M209.6 128.2h1M210.2 123.9h1M209.2 115.9h1M209.9 129.7h1M210.4 127.5h1M210.5 116.4h1M265.4 96.3h1M264.4 93.3h1M265.4 96.9h1M263.9 106.5h1M264.0 104.5h1M265.3 91.0h1M265.5 102.3h1M265.4 99.2h1M265.0 97.1h1M264.5 97.4h1M265.5 95.5h1M265.9 88.3h1M264.8 88.6h1M263.9 97.3h1M264.6 93.2h1M264.2 94.8h1M263.9 95.0h1M264.5 89.8h1M265.0 86.7h1M265.1 97.3h1M265.1 96.7h1M265.3 94.7h1M264.2 97.9h1M264.4 94.2h1M264.9 91.4h1M265.4 88.4h1M265.5 95.8h1M265.8 101.5h1M265.2 97.5h1M264.9 89.2h1M264.5 91.3h1M264.4 95.4h1M264.4 96.7h1M264.7 93.7h1M265.0 98.3h1M264.1 94.4h1M266.4 96.1h1M265.1 91.6h1M265.4 103.7h1M265.1 95.3h1M264.8 86.6h1M265.1 94.5h1M265.0 97.9h1M264.9 106.5h1M265.3 92.8h1M265.2 99.1h1M264.8 103.0h1M264.6 87.3h1M264.2 97.9h1M264.3 96.8h1M264.0 97.9h1M264.7 91.5h1M264.5 94.7h1M265.3 97.2h1M264.7 96.8h1M265.3 98.3h1M265.8 92.4h1M265.3 96.6h1M264.5 99.0h1M265.3 100.9h1M265.1 91.6h1M264.9 97.9h1M265.7 96.6h1M264.9 103.8h1M264.9 93.8h1M265.0 99.8h1M264.9 87.7h1M264.6 101.0h1M264.4 100.3h1M264.9 92.1h1M265.3 85.4h1M263.7 88.3h1M265.1 94.6h1M265.2 95.6h1M264.9 93.4h1M264.6 100.9h1M265.2 89.4h1M265.1 106.0h1M265.2 91.3h1M265.2 97.1h1M264.6 100.8h1M265.5 93.4h1M264.9 94.1h1M264.8 103.9h1M264.6 98.8h1M265.0 96.4h1M264.2 99.1h1M264.2 99.6h1M264.8 96.7h1M264.6 91.8h1M264.3 96.1h1M264.8 97.4h1M264.7 99.8h1M264.9 96.6h1M264.7 95.9h1M265.2 92.5h1M264.2 97.9h1M265.1 96.1h1M265.0 89.6h1M264.3 96.0h1M264.8 89.9h1M265.1 86.6h1M265.5 90.8h1M264.5 90.9h1M264.1 94.4h1M263.8 94.3h1M264.9 94.5h1M264.8 88.9h1M263.8 89.5h1M265.4 97.5h1M263.9 104.4h1M265.2 101.3h1M265.4 102.4h1M263.9 96.4h1M264.4 105.5h1M265.2 96.0h1M264.7 85.6h1M264.9 91.8h1M265.6 99.6h1M264.8 94.0h1M265.4 93.4h1M265.4 97.0h1M264.7 97.8h1M265.8 88.1h1M265.2 99.6h1M264.7 103.2h1M265.2 98.7h1M264.3 98.8h1M264.1 98.5h1M266.0 91.6h1M265.7 90.6h1M264.9 99.5h1M264.0 97.6h1M264.4 92.9h1M265.3 95.6h1M265.0 96.1h1M265.0 103.6h1M264.9 94.6h1M264.8 99.5h1M265.1 85.4h1M264.8 98.1h1M266.2 93.0h1M264.7 90.3h1M264.8 87.3h1M264.4 95.6h1M264.0 94.6h1M264.4 102.2h1M265.7 106.4h1M264.9 99.3h1M266.1 92.8h1M265.7 91.5h1M265.4 88.2h1M264.6 95.0h1M264.7 86.4h1M264.9 94.5h1M265.6 98.8h1M263.6 96.6h1M265.4 95.5h1M264.4 89.2h1M264.6 91.3h1M264.7 94.4h1M265.5 91.1h1M265.0 90.5h1M265.0 101.1h1M264.5 90.1h1M264.8 96.1h1M264.5 98.0h1M264.9 99.3h1M264.1 99.7h1M265.5 91.9h1M265.9 97.1h1M264.1 90.7h1M264.4 92.7h1M264.7 97.4h1M264.7 94.4h1M264.3 85.8h1M264.4 89.9h1M265.3 84.0h1M265.4 81.8h1M264.7 96.0h1M264.2 91.1h1M265.3 90.6h1M264.8 96.2h1M265.2 89.7h1M265.5 95.2h1M265.4 88.9h1M265.4 95.5h1M265.2 92.8h1M265.3 96.1h1M263.8 108.4h1M264.5 98.3h1M264.7 93.7h1M264.6 100.5h1M265.3 100.6h1M263.9 100.0h1M264.0 107.4h1M265.0 101.6h1M264.8 96.6h1M264.4 105.9h1M264.6 101.4h1" stroke="#ff0000" stroke-opacity="0.3" stroke-width="0.9" fill="none"/>
<path d="M141.0 163.0h1M141.7 163.5h1M141.5 173.9h1M143.2 142.6h1M141.6 146.7h1M143.8 147.5h1M142.9 167.2h1M142.2 137.9h1M144.8 163.0h1M143.3 179.8h1M140.7 151.2h1M144.8 192.2h1M141.0 163.9h1M143.7 163.0h1M144.2 173.5h1M142.1 174.5h1M141.5 182.8h1M141.3 183.4h1M146.0 140.6h1M144.8 144.4h1M142.1 190.7h1M143.9 174.5h1M142.8 167.6h1M142.9 162.3h1M141.8 147.9h1M144.9 164.8h1M145.1 175.5h1M142.9 149.8h1M141.9 165.8h1M142.1 160.9h1M138.8 159.4h1M141.9 158.4h1M141.8 143.2h1M141.0 185.8h1M140.8 157.8h1M141.0 162.8h1M141.5 193.2h1M140.7 184.1h1M141.5 171.4h1M146.1 165.0h1M142.2 125.0h1M141.7 162.0h1M142.4 168.5h1M140.6 152.0h1M143.4 161.4h1M142.3 174.5h1M142.4 167.3h1M140.6 165.2h1M139.7 190.0h1M141.1 188.8h1M141.5 163.3h1M144.2 168.2h1M142.5 161.5h1M141.9 154.9h1M141.1 140.2h1M142.0 154.3h1M144.4 195.0h1M145.1 148.6h1M141.7 163.5h1M140.0 187.2h1M143.3 169.4h1M145.2 172.2h1M141.8 169.3h1M141.6 172.1h1M140.3 172.5h1M141.8 159.4h1M141.7 163.6h1M139.7 173.8h1M142.0 190.6h1M142.3 178.6h1M142.2 163.5h1M140.4 158.9h1M141.4 131.4h1M141.8 155.3h1M142.7 179.9h1M141.8 182.1h1M144.2 176.1h1M141.8 166.9h1M144.7 187.2h1M144.0 141.2h1M138.9 190.4h1M143.4 184.4h1M143.2 161.2h1M143.0 164.8h1M144.5 177.3h1M140.9 154.8h1M143.8 177.9h1M142.7 170.3h1M140.4 153.5h1M143.1 139.8h1M143.0 173.7h1M143.3 177.4h1M145.2 169.6h1M141.1 141.5h1M138.9 166.9h1M143.6 142.0h1M142.6 155.5h1M141.9 168.6h1M142.4 148.9h1M143.4 163.7h1M139.5 176.4h1M144.7 160.1h1M144.7 143.3h1M141.9 183.9h1M144.3 172.8h1M143.9 159.8h1M143.4 179.1h1M143.7 170.9h1M143.6 171.7h1M143.2 143.7h1M143.2 152.3h1M141.7 166.4h1M142.7 147.0h1M141.5 168.9h1M141.7 165.9h1M142.6 168.5h1M141.5 168.1h1M143.2 147.7h1M143.5 151.5h1M142.8 174.1h1M143.3 148.9h1M140.9 148.9h1M143.2 167.4h1M139.6 175.9h1M144.1 158.1h1M142.2 169.0h1M140.8 159.5h1M143.1 160.6h1M142.3 167.1h1M144.9 169.2h1M142.8 158.8h1M144.2 166.4h1M142.2 184.0h1M144.3 152.4h1M141.8 183.4h1M141.6 187.6h1M142.0 192.9h1M140.8 138.1h1M140.1 193.3h1M141.2 159.3h1M141.4 155.0h1M142.5 167.3h1M141.3 158.0h1M144.3 178.9h1M143.8 182.9h1M142.0 177.8h1M144.8 153.8h1M144.3 130.8h1M139.4 144.8h1M140.8 151.8h1M141.5 176.9h1M141.2 160.2h1M140.3 142.9h1M142.0 154.8h1M143.6 167.0h1M139.5 175.6h1M140.5 159.7h1M140.7 153.7h1M141.4 148.6h1M141.2 161.3h1M143.4 175.2h1M144.9 142.5h1M141.7 182.3h1M140.6 162.9h1M143.4 186.9h1M143.1 169.8h1M142.0 173.9h1M142.4 170.0h1M141.3 163.4h1M140.9 149.8h1M141.0 153.3h1M141.2 157.0h1M140.0 169.5h1M142.7 186.9h1M138.7 145.2h1M140.8 152.9h1M142.3 153.2h1M141.1 175.3h1M142.0 142.4h1M143.7 196.6h1M143.9 162.8h1M144.3 164.1h1M141.7 168.6h1M144.2 166.7h1M141.8 145.7h1M142.5 150.0h1M142.1 145.6h1M140.9 151.5h1M141.2 149.1h1M144.1 176.0h1M141.7 150.5h1M143.9 161.6h1M143.1 179.1h1M141.6 171.2h1M142.9 159.0h1M142.0 156.3h1M137.1 159.6h1M144.7 179.3h1M146.3 166.1h1M143.6 156.3h1M209.6 120.7h1M210.6 132.2h1M208.6 131.7h1M211.0 132.3h1M209.1 128.2h1M210.5 117.5h1M209.3 142.2h1M209.7 123.4h1M208.6 122.5h1M211.4 129.5h1M209.5 127.1h1M210.5 130.9h1M209.4 129.4h1M209.7 123.3h1M209.5 121.2h1M210.6 114.5h1M210.4 145.8h1M209.5 124.8h1M210.2 137.7h1M209.0 130.7h1M210.1 140.5h1M210.0 140.7h1M209.4 129.3h1M209.3 122.6h1M209.2 123.9h1M211.5 123.0h1M212.3 138.0h1M210.5 126.8h1M210.5 121.5h1M210.7 127.4h1M208.6 127.0h1M210.7 127.1h1M210.5 126.8h1M209.8 134.1h1M211.4 124.6h1M210.9 119.2h1M211.3 121.0h1M210.3 133.3h1M209.8 127.0h1M211.1 122.9h1M210.5 134.3h1M210.4 121.3h1M209.9 125.0h1M210.2 131.1h1M208.9 126.2h1M210.4 137.2h1M209.0 120.6h1M211.0 126.4h1M211.1 126.4h1M209.7 126.3h1M211.3 131.7h1M210.4 127.7h1M211.1 131.0h1M210.4 131.8h1M210.3 119.0h1M211.0 135.0h1M211.4 126.3h1M209.2 129.5h1M209.7 113.8h1M210.3 121.4h1M210.3 123.4h1M210.9 132.6h1M210.6 134.8h1M209.8 143.0h1M208.8 131.8h1M211.1 124.0h1M210.3 118.5h1M209.8 128.7h1M209.2 113.3h1M209.9 120.9h1M209.4 125.6h1M209.1 134.2h1M211.2 126.9h1M209.7 126.3h1M210.1 121.3h1M209.7 129.6h1M209.5 122.3h1M209.8 119.9h1M210.4 117.9h1M211.0 131.6h1M210.2 132.5h1M211.1 124.0h1M210.2 122.5h1M209.9 124.0h1M210.3 130.2h1M212.0 129.0h1M211.0 125.1h1M211.6 127.5h1M210.1 124.8h1M210.2 124.0h1M210.4 138.7h1M210.3 121.5h1M208.7 125.9h1M209.4 121.4h1M210.3 129.0h1M210.6 134.5h1M209.4 122.2h1M209.5 119.8h1M209.7 120.9h1M210.8 119.4h1M212.0 112.6h1M210.9 116.0h1M209.8 118.3h1M210.2 129.9h1M209.9 122.1h1M209.4 120.9h1M209.5 122.0h1M210.2 132.5h1M209.6 112.8h1M209.9 132.1h1M209.3 129.0h1M209.2 117.9h1M210.4 113.9h1M209.9 108.1h1M209.3 129.0h1M209.8 121.7h1M210.6 120.2h1M209.2 123.6h1M210.1 127.4h1M210.0 134.4h1M210.6 125.5h1M212.1 115.8h1M210.4 121.1h1M211.9 128.3h1M210.9 129.1h1M211.4 122.7h1M210.9 114.7h1M210.6 134.1h1M210.9 130.4h1M208.6 126.9h1M209.9 136.7h1M210.6 130.8h1M211.2 129.9h1M209.0 120.9h1M208.5 134.5h1M210.0 117.7h1M210.6 123.5h1M209.9 135.2h1M208.5 116.4h1M210.1 124.6h1M211.1 123.9h1M210.6 138.0h1M209.0 116.7h1M209.6 124.9h1M209.3 128.0h1M209.5 134.0h1M210.6 130.9h1M210.3 127.7h1M208.8 124.8h1M208.7 135.3h1M209.2 120.1h1M209.8 141.2h1M209.3 137.6h1M210.3 143.8h1M210.0 122.6h1M210.1 122.6h1M209.6 131.1h1M209.8 132.3h1M210.7 132.6h1M211.5 133.5h1M209.4 135.4h1M208.1 134.9h1M211.2 119.1h1M211.2 113.6h1M211.0 123.5h1M209.9 125.1h1M209.7 131.3h1M210.1 126.0h1M210.2 123.8h1M209.3 130.4h1M210.9 118.3h1M211.0 134.9h1M210.3 136.3h1M208.4 135.7h1M209.6 128.4h1M209.4 143.0h1M209.8 130.9h1M209.0 124.3h1M210.5 125.6h1M209.5 136.4h1M208.9 126.9h1M210.0 123.9h1M210.7 128.0h1M210.0 130.8h1M210.1 130.0h1M211.2 128.0h1M210.2 122.5h1M211.3 132.9h1M210.6 128.4h1M209.5 126.9h1M210.4 118.5h1M209.4 125.6h1M211.8 128.8h1M209.0 135.0h1M210.9 131.2h1M209.7 125.6h1M212.0 134.0h1M214.0 114.0h1M208.9 123.5h1M209.4 121.9h1M265.2 101.3h1M264.0 97.6h1M265.2 96.1h1M265.5 100.5h1M264.4 95.5h1M264.9 89.1h1M264.7 99.8h1M265.0 95.0h1M266.2 97.9h1M265.3 90.7h1M265.4 92.7h1M264.7 92.9h1M264.1 97.7h1M264.1 98.9h1M264.4 101.1h1M265.0 100.6h1M264.2 97.7h1M265.2 96.3h1M264.7 92.1h1M263.0 97.4h1M264.1 89.8h1M265.0 82.0h1M264.4 98.3h1M264.8 93.9h1M264.4 95.8h1M264.0 92.2h1M265.2 90.4h1M264.7 93.1h1M264.1 85.3h1M264.3 91.2h1M264.2 94.6h1M265.0 98.0h1M265.0 89.2h1M265.5 96.7h1M265.2 88.7h1M265.4 106.2h1M265.1 100.4h1M264.5 95.7h1M264.8 98.2h1M264.9 96.3h1M264.3 89.1h1M264.8 107.3h1M264.3 97.6h1M265.5 91.8h1M263.9 96.8h1M264.8 90.7h1M265.6 98.4h1M264.8 88.2h1M265.5 100.5h1M265.2 103.0h1M264.2 90.1h1M265.3 97.2h1M264.8 92.6h1M265.4 96.2h1M265.3 89.4h1M264.8 97.0h1M265.3 86.8h1M264.7 91.8h1M264.8 94.3h1M265.0 98.9h1M264.9 94.6h1M265.3 101.9h1M264.8 91.1h1M265.8 99.5h1M266.0 93.0h1M264.6 94.2h1M264.8 87.8h1M265.3 87.6h1M263.3 94.8h1M264.2 96.3h1M264.2 88.3h1M263.7 88.8h1M264.6 105.5h1M265.2 91.8h1M265.5 96.2h1M263.8 86.3h1M264.0 92.1h1M264.8 92.0h1M264.5 90.3h1M264.9 98.9h1M264.2 101.2h1M264.3 93.6h1M265.7 98.0h1M264.8 85.5h1M264.8 93.2h1M264.7 100.5h1M264.5 103.9h1M264.8 95.8h1M264.6 95.5h1M265.5 96.2h1M264.3 91.2h1M265.4 97.7h1M264.3 94.4h1M264.9 97.9h1M264.3 95.5h1M264.1 91.2h1M264.7 101.7h1M264.8 103.3h1M265.0 101.4h1M264.7 86.1h1M263.6 92.9h1M265.8 94.2h1M264.5 98.1h1M264.6 93.1h1M264.9 97.0h1M264.5 91.0h1M265.7 90.7h1M264.3 94.1h1M264.7 96.5h1M265.7 101.5h1M264.8 95.6h1M265.3 94.4h1M264.9 89.6h1M265.0 94.6h1M264.0 96.2h1M266.0 96.7h1M264.4 101.4h1M265.0 96.0h1M265.6 99.6h1M265.9 91.0h1M264.6 94.6h1M264.9 89.1h1M265.0 88.1h1M264.5 93.8h1M264.9 96.6h1M264.4 96.7h1M265.0 94.6h1M264.8 92.5h1M265.8 101.8h1M264.9 101.6h1M264.3 92.4h1M264.6 97.2h1M264.6 90.5h1M264.0 89.5h1M265.3 97.4h1M264.0 104.3h1M264.5 92.7h1M264.7 95.2h1M264.6 94.8h1M265.2 99.5h1M264.4 94.2h1M264.4 92.8h1M264.7 93.4h1M265.1 90.4h1M265.0 98.7h1M264.6 93.4h1M265.1 93.1h1M264.6 96.0h1M263.4 98.5h1M264.9 97.9h1M264.0 92.9h1M265.0 97.8h1M264.5 92.7h1M265.6 96.3h1M265.5 88.3h1M265.0 92.3h1M264.5 101.3h1M264.2 90.3h1M264.4 93.8h1M264.8 97.1h1M265.5 97.3h1M265.8 100.3h1M265.1 94.3h1M265.6 93.5h1M265.3 95.2h1M264.5 98.3h1M265.2 96.5h1M265.4 95.6h1M264.4 95.4h1M265.8 90.2h1M263.8 95.0h1M264.2 101.7h1M264.9 90.4h1M264.8 90.4h1M265.1 99.6h1M265.5 100.2h1M264.8 100.9h1M265.1 88.7h1M265.5 90.6h1M264.5 87.3h1M264.4 84.6h1M264.1 90.9h1M264.2 93.1h1M265.2 93.5h1M265.0 100.5h1M264.5 102.3h1M264.8 94.8h1M265.0 101.7h1M264.1 99.6h1M264.5 95.5h1M264.3 82.5h1M265.4 98.8h1M264.2 90.5h1M264.1 94.8h1M265.9 94.3h1M263.9 98.7h1M264.3 87.1h1M265.0 95.0h1M264.9 98.5h1M265.3 84.7h1" stroke="#10109a" stroke-opacity="0.3" stroke-width="0.9" fill="none"/>
<path d="M142.20 166.30 L210.20 125.60 L264.80 95.80" stroke="#ff2a2a" stroke-width="1.05" fill="none"/>
<circle cx="142.20" cy="166.30" r="1.05" fill="#ff2a2a"/>
<circle cx="210.20" cy="125.60" r="1.05" fill="#ff2a2a"/>
<circle cx="264.80" cy="95.80" r="1.05" fill="#ff2a2a"/>
<path d="M142.20 164.65 L210.20 126.60 L264.80 95.00" stroke="#2c2ca4" stroke-width="1.05" fill="none"/>
<circle cx="142.20" cy="164.65" r="1.05" fill="#2c2ca4"/>
<circle cx="210.20" cy="126.60" r="1.05" fill="#2c2ca4"/>
<circle cx="264.80" cy="95.00" r="1.05" fill="#2c2ca4"/>
<rect x="49.0" y="2.0" width="269.40" height="234.50" fill="none" stroke="#bcbcbc" stroke-width="1.3"/>
<path d="M49.00 235.60V237.30M49.00 1.20V2.90M102.88 235.60V237.30M102.88 1.20V2.90M156.76 235.60V237.30M156.76 1.20V2.90M210.64 235.60V237.30M210.64 1.20V2.90M264.52 235.60V237.30M264.52 1.20V2.90M318.40 235.60V237.30M318.40 1.20V2.90M48.20 28.06H49.90M317.50 28.06H319.20M48.20 54.11H49.90M317.50 54.11H319.20M48.20 80.17H49.90M317.50 80.17H319.20M48.20 106.22H49.90M317.50 106.22H319.20M48.20 132.28H49.90M317.50 132.28H319.20M48.20 158.33H49.90M317.50 158.33H319.20M48.20 184.39H49.90M317.50 184.39H319.20M48.20 210.44H49.90M317.50 210.44H319.20" stroke="#707070" stroke-width="1.2" fill="none"/>
<text x="47.0" y="32.56" font-size="11.3" text-anchor="end" class="t" fill="#000">0.00</text>
<text x="47.0" y="58.61" font-size="11.3" text-anchor="end" class="t" fill="#000">−0.05</text>
<text x="47.0" y="84.67" font-size="11.3" text-anchor="end" class="t" fill="#000">−0.10</text>
<text x="47.0" y="110.72" font-size="11.3" text-anchor="end" class="t" fill="#000">−0.15</text>
<text x="47.0" y="136.78" font-size="11.3" text-anchor="end" class="t" fill="#000">−0.20</text>
<text x="47.0" y="162.83" font-size="11.3" text-anchor="end" class="t" fill="#000">−0.25</text>
<text x="47.0" y="188.89" font-size="11.3" text-anchor="end" class="t" fill="#000">−0.30</text>
<text x="47.0" y="214.94" font-size="11.3" text-anchor="end" class="t" fill="#000">−0.35</text>
<text x="47.0" y="241.00" font-size="11.3" text-anchor="end" class="t" fill="#000">−0.40</text>
<text x="49.40" y="245.80" font-size="11.3" text-anchor="middle" class="t" fill="#000">−12</text>
<text x="103.28" y="245.80" font-size="11.3" text-anchor="middle" class="t" fill="#000">−11</text>
<text x="157.16" y="245.80" font-size="11.3" text-anchor="middle" class="t" fill="#000">−10</text>
<text x="211.04" y="245.80" font-size="11.3" text-anchor="middle" class="t" fill="#000">−9</text>
<text x="264.92" y="245.80" font-size="11.3" text-anchor="middle" class="t" fill="#000">−8</text>
<text x="318.80" y="245.80" font-size="11.3" text-anchor="middle" class="t" fill="#000">−7</text>
<text x="176.10" y="262.10" font-size="20" font-style="italic" fill="#000">x</text>
<text x="185.30" y="264.30" font-size="14" fill="#000">0</text>
<g stroke="#000" fill="none" stroke-width="1.2"><path d="M1.7 105.5L10.1 100.9L18.9 105.5"/><path d="M1.7 131.9L10.1 136.1L18.9 131.9"/><path d="M8.8 112.4H16.8M16.8 108.4V115.6"/></g>
<text class="b" transform="translate(14.9,129.6) rotate(-90)" font-size="18.2" fill="#000">Δ</text>
<text x="308.40" y="33.30" font-size="19" text-anchor="end" fill="#000">minimal deviation</text>
<text x="143.00" y="219.54" font-size="13.8" text-anchor="middle" class="s" fill="#000">−0.003<tspan dx="2" dy="0.8">±</tspan><tspan dx="2" dy="-0.8">0.032</tspan></text>
<text x="211.00" y="193.49" font-size="13.8" text-anchor="middle" class="s" fill="#000">0.002<tspan dx="2" dy="0.8">±</tspan><tspan dx="2" dy="-0.8">0.020</tspan></text>
<text x="265.60" y="167.43" font-size="13.8" text-anchor="middle" class="s" fill="#000">−0.001<tspan dx="2" dy="0.8">±</tspan><tspan dx="2" dy="-0.8">0.014</tspan></text>
</g>
<g transform="translate(0,271.9)">
<path d="M102.88 2.0V236.5M156.76 2.0V236.5M210.64 2.0V236.5M264.52 2.0V236.5M49.0 28.06H318.4M49.0 54.11H318.4M49.0 80.17H318.4M49.0 106.22H318.4M49.0 132.28H318.4M49.0 158.33H318.4M49.0 184.39H318.4M49.0 210.44H318.4" stroke="#f0fcfc" stroke-width="1.5" fill="none"/>
<path d="M142.5 162.1h1M144.0 131.8h1M139.5 130.7h1M142.8 143.3h1M143.4 143.6h1M140.3 130.7h1M141.9 157.6h1M144.4 132.2h1M142.9 145.2h1M140.5 129.7h1M144.5 140.0h1M142.1 152.4h1M142.7 155.7h1M141.0 140.8h1M142.6 150.9h1M141.1 122.5h1M143.5 157.9h1M143.6 144.5h1M139.5 140.6h1M145.2 150.3h1M142.6 123.5h1M141.2 159.7h1M142.7 144.3h1M144.1 156.0h1M143.0 143.8h1M142.8 160.5h1M142.7 128.6h1M141.9 142.2h1M142.8 163.8h1M142.1 140.1h1M143.3 152.7h1M141.0 152.5h1M142.5 150.9h1M139.9 118.6h1M140.0 122.7h1M143.6 160.0h1M140.3 166.5h1M140.5 134.9h1M145.4 128.2h1M143.2 157.5h1M143.9 155.3h1M142.6 167.5h1M142.1 147.5h1M142.8 141.4h1M142.0 163.0h1M144.6 154.6h1M142.0 139.3h1M141.6 141.0h1M141.5 144.9h1M141.9 161.1h1M140.1 140.5h1M143.4 140.5h1M141.6 153.9h1M142.1 132.7h1M142.4 155.0h1M139.7 158.8h1M139.7 155.8h1M140.3 149.4h1M142.1 160.5h1M142.1 140.3h1M141.1 149.1h1M141.9 158.4h1M142.8 163.5h1M143.3 148.7h1M142.1 154.9h1M143.4 127.7h1M142.8 141.3h1M142.7 157.3h1M139.4 144.7h1M143.7 122.2h1M142.6 146.5h1M141.4 158.8h1M143.6 146.6h1M144.3 166.6h1M142.5 158.0h1M143.5 170.3h1M143.4 155.9h1M142.4 156.4h1M144.6 145.3h1M142.1 133.0h1M146.0 141.0h1M141.5 138.5h1M144.0 151.4h1M139.2 148.5h1M145.0 145.8h1M142.4 186.5h1M141.9 143.6h1M143.2 180.2h1M142.9 124.0h1M142.0 143.5h1M143.4 141.5h1M142.5 128.8h1M140.4 147.4h1M144.7 133.1h1M139.9 163.0h1M142.8 157.7h1M142.0 150.0h1M142.1 146.6h1M144.9 141.1h1M141.7 146.7h1M142.0 170.1h1M142.0 152.1h1M140.4 154.2h1M143.2 155.8h1M139.9 138.0h1M138.3 169.9h1M142.1 169.4h1M145.1 161.0h1M141.3 143.7h1M143.4 119.5h1M144.3 167.2h1M143.6 142.7h1M142.8 124.5h1M140.8 140.4h1M141.1 169.9h1M142.9 113.0h1M144.0 153.7h1M141.9 136.7h1M145.3 150.0h1M142.7 124.4h1M141.4 159.2h1M142.5 140.4h1M141.8 124.5h1M138.6 154.1h1M140.1 124.7h1M142.7 159.6h1M141.7 162.0h1M142.3 102.9h1M144.7 131.5h1M144.6 142.6h1M142.1 140.0h1M140.7 155.0h1M144.7 164.6h1M141.4 153.6h1M143.8 154.6h1M140.3 175.2h1M141.1 135.0h1M142.5 149.8h1M141.4 128.3h1M140.4 146.6h1M139.4 162.3h1M143.2 149.6h1M142.6 134.4h1M141.4 159.1h1M141.5 168.8h1M143.8 156.2h1M141.9 133.6h1M142.0 133.1h1M141.7 141.6h1M141.4 162.5h1M140.9 136.0h1M144.0 150.1h1M143.0 137.8h1M142.7 164.9h1M142.3 152.6h1M144.1 154.9h1M144.1 129.8h1M139.6 130.9h1M142.9 137.1h1M139.2 171.8h1M144.2 139.0h1M141.3 136.8h1M143.3 152.9h1M142.5 165.7h1M141.0 129.7h1M142.2 145.8h1M142.4 152.3h1M139.9 168.7h1M139.6 151.2h1M142.8 158.1h1M142.6 135.0h1M141.9 127.3h1M142.0 143.3h1M139.4 177.2h1M141.3 154.1h1M144.2 146.0h1M141.6 130.9h1M141.1 136.4h1M142.0 157.6h1M142.5 167.4h1M142.8 149.8h1M137.7 144.2h1M142.6 125.7h1M142.1 136.6h1M141.9 145.9h1M141.8 145.6h1M142.8 150.8h1M141.2 159.2h1M142.3 151.6h1M144.9 169.8h1M145.5 143.2h1M142.9 153.2h1M142.4 144.4h1M143.5 162.4h1M145.5 139.0h1M142.9 136.0h1M141.8 113.4h1M145.4 124.2h1M142.4 121.6h1M141.7 132.1h1M208.4 119.3h1M210.0 125.7h1M208.6 131.0h1M210.0 118.6h1M211.5 121.7h1M210.4 137.1h1M210.3 125.8h1M211.0 123.5h1M210.3 125.5h1M209.9 131.8h1M210.5 136.4h1M210.6 116.7h1M210.6 124.6h1M210.0 133.3h1M210.6 115.4h1M211.9 125.6h1M208.8 124.2h1M210.6 118.7h1M209.5 114.0h1M210.4 122.8h1M211.5 128.5h1M210.4 122.2h1M211.0 116.9h1M210.5 129.9h1M209.6 118.2h1M211.2 139.3h1M210.5 139.3h1M210.6 125.2h1M209.9 118.0h1M211.0 122.6h1M209.7 129.1h1M210.6 121.3h1M210.4 125.4h1M210.3 125.5h1M209.9 109.5h1M209.7 134.8h1M209.9 127.7h1M210.7 119.5h1M210.3 124.6h1M210.5 130.7h1M210.3 125.0h1M211.0 127.4h1M209.0 135.3h1M210.6 122.4h1M210.2 119.8h1M210.3 116.2h1M211.1 129.8h1M209.4 130.0h1M209.0 122.7h1M209.4 131.3h1M210.8 117.0h1M210.4 130.0h1M209.9 143.4h1M208.9 135.8h1M211.5 124.0h1M209.2 134.9h1M208.1 126.2h1M209.0 126.3h1M209.7 117.3h1M210.7 134.6h1M209.0 131.0h1M210.3 121.7h1M209.8 130.3h1M211.2 124.5h1M208.1 132.0h1M210.5 112.8h1M209.8 126.3h1M210.0 128.5h1M209.4 130.9h1M207.9 128.9h1M209.7 125.5h1M210.8 135.9h1M209.3 125.7h1M209.3 126.7h1M209.7 118.0h1M211.1 128.9h1M210.2 135.7h1M208.8 129.1h1M211.6 123.9h1M209.5 120.8h1M211.2 133.8h1M210.5 132.9h1M209.6 123.6h1M210.9 119.7h1M210.4 126.1h1M209.5 127.8h1M209.1 121.8h1M208.5 117.4h1M209.4 128.8h1M210.2 117.5h1M210.0 142.1h1M210.3 129.1h1M208.4 122.8h1M211.2 116.2h1M209.4 121.0h1M210.1 130.5h1M208.7 131.0h1M207.9 119.8h1M210.5 118.1h1M209.5 122.5h1M211.5 119.1h1M211.0 140.0h1M209.8 120.5h1M210.2 119.1h1M209.9 118.6h1M208.9 114.8h1M211.0 121.3h1M209.2 133.6h1M210.0 123.7h1M209.5 126.1h1M209.9 123.0h1M210.0 131.5h1M210.0 135.3h1M211.0 118.8h1M209.3 117.0h1M209.5 131.1h1M209.9 122.5h1M210.2 110.6h1M210.4 124.7h1M210.7 123.9h1M211.0 133.5h1M209.9 130.0h1M209.4 120.9h1M209.2 124.5h1M209.1 118.3h1M210.0 115.6h1M210.6 119.4h1M209.9 123.8h1M211.0 130.2h1M209.9 121.8h1M210.9 124.9h1M209.2 126.8h1M210.7 125.7h1M210.2 136.3h1M209.7 131.3h1M211.5 137.9h1M209.2 129.7h1M210.3 142.8h1M211.2 133.1h1M211.2 129.9h1M209.3 141.7h1M208.7 131.4h1M210.8 127.3h1M211.0 125.8h1M210.8 127.7h1M209.5 132.9h1M209.7 130.4h1M209.3 127.7h1M210.6 134.1h1M209.2 122.2h1M210.1 118.7h1M210.7 142.7h1M210.7 130.4h1M209.4 130.0h1M210.6 139.9h1M209.9 134.7h1M209.9 124.1h1M209.8 128.0h1M208.9 123.4h1M211.4 113.2h1M210.9 131.5h1M209.8 120.5h1M211.1 123.6h1M210.4 124.5h1M209.2 133.4h1M210.7 119.4h1M211.1 117.2h1M209.1 132.1h1M209.8 126.0h1M211.5 118.4h1M210.7 123.2h1M210.2 124.5h1M209.5 126.4h1M209.4 126.2h1M209.3 124.1h1M210.3 116.2h1M210.1 131.0h1M210.3 132.6h1M209.3 130.2h1M210.4 106.6h1M210.1 132.2h1M210.1 126.3h1M210.0 124.9h1M209.3 121.2h1M208.3 140.8h1M210.1 127.6h1M210.7 129.6h1M210.1 115.0h1M209.1 137.9h1M210.5 130.7h1M209.3 122.7h1M210.4 120.6h1M211.2 120.7h1M209.8 117.9h1M210.5 135.2h1M210.3 126.0h1M209.8 131.7h1M210.2 138.4h1M209.9 123.4h1M209.7 112.6h1M264.9 100.8h1M263.9 94.3h1M264.2 98.6h1M264.2 104.0h1M265.4 96.9h1M264.8 94.8h1M265.5 94.7h1M264.3 100.2h1M264.3 113.6h1M264.7 98.9h1M264.2 99.7h1M264.4 98.0h1M265.3 97.2h1M265.0 97.0h1M265.3 96.3h1M264.2 98.9h1M265.5 98.1h1M264.3 99.4h1M264.4 101.4h1M264.4 101.7h1M265.3 102.6h1M265.6 101.7h1M265.8 106.5h1M264.6 104.0h1M264.4 99.1h1M264.7 96.2h1M264.9 99.7h1M265.9 104.0h1M264.6 96.8h1M264.5 96.7h1M264.4 100.2h1M264.0 98.6h1M265.0 97.2h1M264.2 97.6h1M265.2 96.3h1M265.6 91.8h1M264.3 103.2h1M265.5 99.1h1M263.9 98.7h1M264.3 96.7h1M264.6 97.1h1M264.7 100.9h1M264.6 91.2h1M264.7 87.1h1M264.8 98.0h1M264.3 110.6h1M265.7 106.8h1M264.9 97.7h1M265.0 108.3h1M264.7 99.4h1M264.5 99.8h1M265.2 95.6h1M265.3 100.8h1M266.0 101.1h1M265.5 95.2h1M266.1 100.6h1M264.7 107.6h1M264.9 94.0h1M265.1 102.9h1M264.8 97.8h1M263.9 108.5h1M264.5 102.0h1M264.5 96.6h1M264.9 95.8h1M265.3 92.2h1M265.1 106.1h1M264.5 101.3h1M265.2 98.0h1M264.7 99.3h1M266.3 96.1h1M264.7 98.0h1M264.5 95.6h1M264.4 101.0h1M265.4 108.3h1M264.1 95.4h1M264.8 95.3h1M264.4 99.1h1M264.5 96.0h1M264.9 96.3h1M264.6 101.8h1M265.2 101.2h1M265.4 101.0h1M264.0 107.5h1M266.3 104.2h1M265.7 105.7h1M264.5 103.3h1M264.4 97.4h1M265.1 100.7h1M264.4 93.2h1M265.2 100.2h1M264.9 95.9h1M264.4 100.0h1M263.8 106.2h1M264.8 105.7h1M265.3 97.4h1M265.1 94.7h1M264.3 106.9h1M264.5 96.4h1M265.0 100.4h1M265.3 93.9h1M264.6 94.9h1M264.8 98.9h1M264.3 91.6h1M264.0 104.9h1M264.6 94.8h1M264.9 94.7h1M265.3 104.6h1M264.8 97.4h1M263.8 102.7h1M265.9 101.2h1M264.5 104.2h1M264.6 94.2h1M264.7 103.2h1M263.8 105.4h1M265.7 100.1h1M264.5 93.2h1M265.1 98.9h1M265.4 108.0h1M265.5 101.2h1M263.8 106.8h1M264.5 97.9h1M265.4 102.6h1M264.2 98.6h1M264.6 99.5h1M264.1 107.7h1M264.7 103.5h1M265.4 111.0h1M265.2 96.7h1M264.5 104.6h1M265.7 93.0h1M265.8 97.5h1M264.7 98.1h1M265.1 99.3h1M264.8 95.7h1M265.6 102.1h1M264.8 110.9h1M265.1 107.1h1M264.6 101.0h1M264.7 104.6h1M264.9 91.9h1M265.1 99.2h1M264.9 105.1h1M264.6 103.5h1M264.8 99.9h1M264.5 99.8h1M264.6 104.2h1M263.5 103.2h1M264.7 95.1h1M265.2 100.2h1M265.1 107.0h1M264.9 92.4h1M263.9 100.0h1M264.1 111.0h1M264.7 91.4h1M263.6 97.6h1M263.5 102.7h1M263.5 104.7h1M264.5 105.9h1M264.2 98.1h1M265.4 92.3h1M265.2 107.5h1M264.2 99.6h1M265.7 107.7h1M265.7 99.8h1M264.6 99.5h1M264.6 104.4h1M265.3 102.9h1M264.4 104.2h1M265.1 101.5h1M265.5 98.5h1M264.9 105.8h1M264.4 104.8h1M265.2 107.8h1M265.5 97.5h1M265.8 98.1h1M264.1 99.0h1M264.6 95.9h1M265.3 102.9h1M265.1 93.6h1M265.8 102.7h1M265.4 102.2h1M265.0 104.2h1M264.9 107.3h1M264.5 90.3h1M264.6 100.3h1M265.0 100.9h1M265.0 102.6h1M264.7 103.1h1M265.1 96.6h1M263.8 101.5h1M265.1 105.7h1M265.4 101.9h1M265.4 97.6h1M264.5 107.1h1M264.2 100.3h1M264.2 94.4h1M266.0 91.7h1M265.8 98.2h1M264.4 92.2h1M264.9 103.5h1" stroke="#ff0000" stroke-opacity="0.3" stroke-width="0.9" fill="none"/>
<path d="M143.1 155.0h1M144.7 170.5h1M143.0 175.8h1M143.1 163.2h1M142.7 157.7h1M142.6 154.3h1M140.1 159.4h1M142.0 158.1h1M141.8 160.1h1M142.3 191.8h1M143.1 179.4h1M143.7 179.6h1M142.8 179.3h1M143.8 165.5h1M141.8 167.5h1M142.1 174.1h1M141.6 162.0h1M142.6 174.5h1M142.1 147.2h1M141.9 179.2h1M141.9 184.9h1M141.5 164.3h1M143.4 183.6h1M141.8 187.9h1M142.5 173.2h1M144.9 179.2h1M141.9 166.9h1M140.9 183.0h1M142.8 193.4h1M144.0 168.0h1M141.3 163.4h1M144.1 166.1h1M143.9 184.7h1M144.4 171.2h1M143.3 150.3h1M142.7 168.2h1M143.6 143.7h1M141.8 199.4h1M142.5 161.4h1M142.4 166.0h1M141.7 176.1h1M142.6 183.5h1M145.9 177.8h1M142.8 188.0h1M140.2 192.6h1M140.6 161.4h1M142.3 149.5h1M141.3 170.1h1M142.8 148.8h1M137.8 177.0h1M139.8 172.6h1M142.9 178.8h1M141.4 159.6h1M146.8 166.5h1M140.7 149.9h1M141.9 191.4h1M143.3 155.6h1M140.2 159.3h1M142.2 171.8h1M143.0 183.1h1M140.3 146.6h1M142.1 175.9h1M141.4 171.6h1M142.1 183.7h1M141.9 161.4h1M143.0 181.5h1M141.3 166.4h1M141.2 152.2h1M145.8 159.5h1M141.8 163.2h1M141.0 166.0h1M142.1 173.0h1M141.4 148.4h1M142.0 177.5h1M144.1 166.7h1M141.8 157.6h1M144.4 159.6h1M141.5 167.1h1M141.9 168.7h1M142.8 191.2h1M143.0 173.6h1M140.1 198.3h1M143.0 180.0h1M141.8 166.6h1M141.7 165.4h1M141.6 178.7h1M143.8 167.2h1M141.8 179.4h1M141.9 175.4h1M141.3 187.2h1M141.5 175.6h1M144.8 173.4h1M141.8 178.1h1M144.5 137.4h1M141.7 165.8h1M143.5 147.1h1M143.4 168.8h1M143.1 153.8h1M144.1 203.8h1M142.4 176.1h1M140.7 128.8h1M142.1 164.8h1M143.2 168.7h1M140.3 137.0h1M143.9 181.3h1M142.0 164.4h1M143.3 160.5h1M140.3 185.1h1M140.2 162.2h1M144.2 174.4h1M143.9 188.5h1M142.5 147.5h1M139.7 137.2h1M143.3 148.0h1M142.0 169.2h1M142.7 167.5h1M144.1 172.5h1M143.8 166.8h1M142.3 170.2h1M143.0 178.8h1M141.5 176.5h1M146.4 130.5h1M143.2 166.2h1M141.9 159.6h1M140.5 171.4h1M141.2 190.0h1M142.7 192.3h1M142.4 147.9h1M142.9 170.8h1M143.5 134.3h1M142.3 188.2h1M142.4 139.3h1M142.9 174.7h1M144.3 175.8h1M140.7 184.4h1M143.3 184.7h1M142.0 182.4h1M139.1 149.1h1M143.1 190.3h1M143.1 170.2h1M142.0 162.0h1M143.9 142.8h1M142.6 189.0h1M139.7 136.4h1M140.8 167.9h1M143.1 159.9h1M143.4 160.6h1M139.8 182.1h1M142.2 158.6h1M139.8 132.3h1M140.6 178.0h1M140.9 149.0h1M141.1 176.2h1M143.1 185.1h1M140.9 189.1h1M144.6 174.0h1M143.8 191.3h1M142.8 155.7h1M143.0 173.1h1M143.3 205.0h1M142.3 164.6h1M144.1 168.5h1M140.4 172.5h1M143.8 145.1h1M144.8 195.1h1M140.6 171.5h1M142.8 175.9h1M142.7 178.0h1M141.1 164.5h1M142.1 174.2h1M145.2 180.5h1M140.7 173.3h1M145.1 197.0h1M144.8 169.5h1M143.4 170.6h1M140.6 168.8h1M141.6 150.0h1M142.0 162.5h1M141.9 178.3h1M140.6 169.2h1M142.8 172.1h1M142.7 169.3h1M139.9 138.7h1M141.4 162.3h1M140.9 157.0h1M141.6 192.2h1M142.1 179.4h1M143.3 170.4h1M143.7 160.0h1M142.0 151.4h1M142.1 180.5h1M140.9 166.8h1M141.9 167.2h1M141.6 172.0h1M140.4 169.8h1M144.8 152.4h1M143.5 158.1h1M141.4 193.6h1M143.3 176.8h1M144.7 177.2h1M210.1 111.9h1M210.8 140.2h1M209.9 119.6h1M208.8 132.3h1M208.2 130.8h1M210.9 124.9h1M209.3 126.1h1M211.6 119.9h1M209.5 131.8h1M209.7 137.3h1M209.6 119.5h1M208.9 126.5h1M211.2 128.2h1M209.7 117.3h1M210.4 123.3h1M212.2 119.7h1M209.1 119.0h1M210.4 132.2h1M210.4 136.4h1M210.8 123.9h1M211.7 122.5h1M210.4 128.4h1M211.2 127.8h1M210.5 114.2h1M210.2 129.1h1M211.5 115.9h1M209.2 134.0h1M212.2 129.1h1M208.4 115.5h1M209.9 121.8h1M210.6 135.5h1M210.9 121.4h1M209.6 126.7h1M210.6 132.0h1M209.9 135.4h1M210.8 125.9h1M210.4 139.3h1M210.8 125.9h1M209.9 134.8h1M210.5 129.1h1M209.6 126.2h1M210.4 140.5h1M209.1 128.9h1M209.4 118.3h1M212.2 119.1h1M211.3 135.3h1M210.6 128.4h1M210.2 131.6h1M210.6 132.1h1M210.8 116.5h1M209.1 127.8h1M210.2 118.5h1M211.0 131.5h1M210.5 135.5h1M210.8 127.2h1M209.7 136.2h1M209.8 122.9h1M209.4 132.9h1M210.4 126.9h1M211.0 122.2h1M210.9 124.4h1M210.1 126.7h1M210.4 137.9h1M209.7 135.3h1M211.3 126.9h1M209.7 120.0h1M210.2 148.3h1M210.1 129.0h1M209.4 131.2h1M210.4 135.0h1M212.0 135.2h1M209.5 127.1h1M209.1 125.1h1M209.0 136.1h1M208.4 132.3h1M210.3 117.2h1M210.9 137.2h1M211.7 126.2h1M210.9 129.5h1M211.5 128.0h1M211.2 120.9h1M209.7 120.4h1M210.1 119.2h1M210.4 124.0h1M209.0 129.7h1M211.2 131.7h1M210.5 126.4h1M210.1 116.8h1M211.9 116.3h1M209.5 120.7h1M209.3 129.1h1M209.6 124.1h1M210.5 119.5h1M209.3 131.3h1M209.8 115.0h1M210.7 117.8h1M210.2 128.1h1M210.5 129.9h1M209.9 127.8h1M208.8 129.9h1M208.6 133.1h1M209.6 134.1h1M210.2 131.6h1M209.8 126.2h1M210.6 132.5h1M209.9 108.6h1M210.3 133.0h1M211.3 126.1h1M211.1 102.7h1M209.9 123.5h1M212.0 126.2h1M212.4 128.2h1M209.8 123.8h1M209.5 128.9h1M210.3 120.9h1M211.7 135.4h1M209.9 131.7h1M210.1 124.4h1M209.5 123.2h1M211.7 139.9h1M210.1 125.7h1M211.2 122.0h1M210.8 117.1h1M210.6 133.2h1M210.9 139.2h1M211.2 124.9h1M209.0 111.3h1M209.3 126.9h1M209.7 148.0h1M210.6 131.1h1M210.3 126.6h1M210.5 136.0h1M210.3 134.8h1M211.4 129.5h1M210.8 130.5h1M211.3 134.3h1M210.4 136.6h1M211.3 129.8h1M209.2 140.7h1M210.4 133.4h1M210.4 126.1h1M209.2 128.4h1M210.1 132.0h1M210.0 127.9h1M210.9 128.2h1M209.7 131.7h1M210.0 120.9h1M209.3 122.0h1M209.7 112.2h1M209.0 123.9h1M209.9 126.9h1M210.7 120.5h1M211.6 130.7h1M208.1 127.8h1M209.4 131.8h1M211.7 118.1h1M210.3 120.4h1M208.9 132.7h1M211.0 123.2h1M209.9 119.3h1M209.6 126.4h1M210.1 133.2h1M210.4 127.7h1M210.3 132.5h1M210.7 118.3h1M210.1 131.0h1M209.5 117.6h1M209.4 119.3h1M210.0 126.9h1M210.7 114.3h1M210.6 133.9h1M212.5 125.9h1M210.9 115.6h1M211.2 139.8h1M210.5 123.7h1M211.5 121.2h1M211.8 120.4h1M210.6 130.3h1M210.4 123.8h1M209.3 138.0h1M210.6 121.7h1M209.1 133.5h1M211.4 127.6h1M209.8 132.2h1M210.6 136.8h1M210.1 123.0h1M210.2 118.4h1M209.3 124.1h1M210.1 128.5h1M209.0 125.5h1M211.9 115.7h1M209.9 124.6h1M210.8 122.3h1M212.2 124.1h1M210.4 129.1h1M211.4 131.1h1M209.0 128.4h1M209.7 136.3h1M210.7 130.6h1M210.1 122.9h1M265.4 99.5h1M266.1 93.6h1M265.4 89.5h1M265.1 94.9h1M264.2 91.8h1M264.9 93.7h1M264.7 93.4h1M264.8 92.6h1M263.9 95.5h1M265.8 94.0h1M264.9 90.7h1M264.4 90.0h1M264.1 95.0h1M264.3 96.5h1M264.9 87.6h1M266.0 93.0h1M264.9 92.5h1M264.2 94.7h1M265.1 84.2h1M264.8 95.5h1M265.8 84.8h1M264.4 100.6h1M264.4 98.0h1M264.3 89.0h1M265.2 92.0h1M264.2 95.0h1M265.5 94.3h1M266.1 88.3h1M265.7 96.3h1M265.3 98.6h1M264.6 93.3h1M264.1 91.2h1M264.4 99.9h1M264.5 96.5h1M264.8 106.7h1M264.4 90.1h1M265.2 85.9h1M264.8 89.7h1M264.3 93.7h1M265.9 99.3h1M265.3 97.1h1M265.1 91.3h1M264.9 94.3h1M265.2 99.2h1M264.2 88.1h1M265.6 89.2h1M265.5 109.0h1M265.4 96.4h1M264.7 95.7h1M265.3 110.0h1M265.3 93.9h1M265.7 94.8h1M265.5 96.2h1M264.9 98.7h1M264.7 91.5h1M264.8 95.2h1M264.6 98.6h1M265.0 96.3h1M264.6 95.9h1M265.2 93.3h1M264.7 96.1h1M264.9 91.8h1M265.3 97.0h1M265.8 89.0h1M264.1 96.2h1M265.9 99.6h1M264.8 91.0h1M265.0 92.3h1M264.4 95.2h1M264.4 93.2h1M264.4 93.8h1M265.1 95.0h1M264.9 89.5h1M264.0 94.2h1M264.8 98.0h1M264.0 99.4h1M264.7 89.3h1M264.5 92.4h1M265.5 92.5h1M265.0 90.3h1M264.0 91.1h1M263.9 93.1h1M264.7 103.5h1M264.5 100.3h1M265.1 98.8h1M264.9 94.0h1M265.1 100.6h1M264.3 88.4h1M264.5 87.4h1M264.5 93.1h1M264.4 93.7h1M265.5 95.0h1M265.4 93.9h1M264.8 87.8h1M265.5 96.3h1M265.6 94.3h1M264.4 105.2h1M264.2 84.6h1M265.2 89.4h1M264.1 96.0h1M264.3 103.7h1M266.0 105.6h1M264.5 99.4h1M264.4 92.1h1M264.7 93.7h1M265.0 93.1h1M265.6 87.7h1M265.0 86.7h1M265.1 100.8h1M265.6 97.9h1M264.9 91.5h1M264.6 95.6h1M264.4 88.1h1M265.5 97.3h1M265.0 92.6h1M265.2 92.6h1M265.0 95.0h1M264.8 91.5h1M265.2 90.7h1M265.7 99.4h1M264.7 97.1h1M265.3 94.9h1M264.2 96.2h1M264.6 93.8h1M265.9 95.0h1M264.0 98.4h1M265.4 90.7h1M264.8 91.3h1M265.0 100.6h1M266.3 93.6h1M264.9 101.8h1M264.7 99.4h1M264.4 110.9h1M264.3 98.5h1M265.7 99.8h1M265.7 99.6h1M264.8 98.5h1M265.3 96.0h1M265.3 93.5h1M264.4 102.0h1M264.9 103.1h1M265.9 92.7h1M265.7 97.0h1M265.0 86.2h1M264.6 93.7h1M264.5 88.9h1M263.9 95.6h1M265.0 99.2h1M264.0 86.9h1M265.9 94.2h1M264.8 100.0h1M264.2 93.9h1M265.3 97.1h1M265.3 92.8h1M265.6 87.6h1M263.6 93.8h1M264.9 94.7h1M263.7 88.1h1M264.6 99.2h1M265.5 103.2h1M264.1 92.2h1M263.8 88.7h1M264.1 94.1h1M264.3 96.3h1M265.6 93.4h1M264.6 94.9h1M264.7 93.6h1M264.4 95.4h1M264.5 97.0h1M264.9 100.1h1M265.1 97.4h1M264.8 92.5h1M265.1 90.6h1M265.0 103.2h1M264.4 98.2h1M265.1 94.8h1M265.4 92.6h1M264.1 97.4h1M265.1 96.3h1M265.3 89.4h1M264.3 103.8h1M264.6 100.1h1M265.0 85.3h1M264.5 108.7h1M264.9 98.6h1M264.1 94.2h1M264.2 93.4h1M264.9 91.1h1M264.0 97.8h1M265.1 92.4h1M264.4 99.3h1M264.7 100.8h1M265.2 93.5h1M265.4 85.6h1M264.3 95.1h1M265.3 99.1h1M265.1 90.7h1M264.8 104.2h1M265.2 100.2h1M264.9 88.9h1" stroke="#10109a" stroke-opacity="0.3" stroke-width="0.9" fill="none"/>
<path d="M142.20 146.10 L210.20 126.40 L264.80 100.40" stroke="#ff2a2a" stroke-width="1.05" fill="none"/>
<circle cx="142.20" cy="146.10" r="1.05" fill="#ff2a2a"/>
<circle cx="210.20" cy="126.40" r="1.05" fill="#ff2a2a"/>
<circle cx="264.80" cy="100.40" r="1.05" fill="#ff2a2a"/>
<path d="M142.20 167.50 L210.20 127.90 L264.80 94.80" stroke="#2c2ca4" stroke-width="1.05" fill="none"/>
<circle cx="142.20" cy="167.50" r="1.05" fill="#2c2ca4"/>
<circle cx="210.20" cy="127.90" r="1.05" fill="#2c2ca4"/>
<circle cx="264.80" cy="94.80" r="1.05" fill="#2c2ca4"/>
<rect x="49.0" y="2.0" width="269.40" height="234.50" fill="none" stroke="#bcbcbc" stroke-width="1.3"/>
<path d="M49.00 235.60V237.30M49.00 1.20V2.90M102.88 235.60V237.30M102.88 1.20V2.90M156.76 235.60V237.30M156.76 1.20V2.90M210.64 235.60V237.30M210.64 1.20V2.90M264.52 235.60V237.30M264.52 1.20V2.90M318.40 235.60V237.30M318.40 1.20V2.90M48.20 28.06H49.90M317.50 28.06H319.20M48.20 54.11H49.90M317.50 54.11H319.20M48.20 80.17H49.90M317.50 80.17H319.20M48.20 106.22H49.90M317.50 106.22H319.20M48.20 132.28H49.90M317.50 132.28H319.20M48.20 158.33H49.90M317.50 158.33H319.20M48.20 184.39H49.90M317.50 184.39H319.20M48.20 210.44H49.90M317.50 210.44H319.20" stroke="#707070" stroke-width="1.2" fill="none"/>
<text x="47.0" y="32.56" font-size="11.3" text-anchor="end" class="t" fill="#000">0.00</text>
<text x="47.0" y="58.61" font-size="11.3" text-anchor="end" class="t" fill="#000">−0.05</text>
<text x="47.0" y="84.67" font-size="11.3" text-anchor="end" class="t" fill="#000">−0.10</text>
<text x="47.0" y="110.72" font-size="11.3" text-anchor="end" class="t" fill="#000">−0.15</text>
<text x="47.0" y="136.78" font-size="11.3" text-anchor="end" class="t" fill="#000">−0.20</text>
<text x="47.0" y="162.83" font-size="11.3" text-anchor="end" class="t" fill="#000">−0.25</text>
<text x="47.0" y="188.89" font-size="11.3" text-anchor="end" class="t" fill="#000">−0.30</text>
<text x="47.0" y="214.94" font-size="11.3" text-anchor="end" class="t" fill="#000">−0.35</text>
<text x="47.0" y="241.00" font-size="11.3" text-anchor="end" class="t" fill="#000">−0.40</text>
<text x="49.40" y="245.80" font-size="11.3" text-anchor="middle" class="t" fill="#000">−12</text>
<text x="103.28" y="245.80" font-size="11.3" text-anchor="middle" class="t" fill="#000">−11</text>
<text x="157.16" y="245.80" font-size="11.3" text-anchor="middle" class="t" fill="#000">−10</text>
<text x="211.04" y="245.80" font-size="11.3" text-anchor="middle" class="t" fill="#000">−9</text>
<text x="264.92" y="245.80" font-size="11.3" text-anchor="middle" class="t" fill="#000">−8</text>
<text x="318.80" y="245.80" font-size="11.3" text-anchor="middle" class="t" fill="#000">−7</text>
<text x="176.10" y="262.10" font-size="20" font-style="italic" fill="#000">x</text>
<text x="185.30" y="264.30" font-size="14" fill="#000">0</text>
<g stroke="#000" fill="none" stroke-width="1.2"><path d="M1.7 105.5L10.1 100.9L18.9 105.5"/><path d="M1.7 131.9L10.1 136.1L18.9 131.9"/><path d="M8.8 112.4H16.8M16.8 108.4V115.6"/></g>
<text class="b" transform="translate(14.9,129.6) rotate(-90)" font-size="18.2" fill="#000">Δ</text>
<text x="308.40" y="33.30" font-size="19" text-anchor="end" fill="#000">large upward deviation</text>
<text x="143.00" y="219.54" font-size="13.8" text-anchor="middle" class="s" fill="#000">0.041<tspan dx="2" dy="0.8">±</tspan><tspan dx="2" dy="-0.8">0.033</tspan></text>
<text x="211.00" y="193.49" font-size="13.8" text-anchor="middle" class="s" fill="#000">0.000<tspan dx="2" dy="0.8">±</tspan><tspan dx="2" dy="-0.8">0.019</tspan></text>
<text x="265.60" y="167.43" font-size="13.8" text-anchor="middle" class="s" fill="#000">−0.010<tspan dx="2" dy="0.8">±</tspan><tspan dx="2" dy="-0.8">0.015</tspan></text>
</g>
<g transform="translate(339.5,271.9)">
<path d="M102.88 2.0V236.5M156.76 2.0V236.5M210.64 2.0V236.5M264.52 2.0V236.5M49.0 28.06H318.4M49.0 54.11H318.4M49.0 80.17H318.4M49.0 106.22H318.4M49.0 132.28H318.4M49.0 158.33H318.4M49.0 184.39H318.4M49.0 210.44H318.4" stroke="#f0fcfc" stroke-width="1.5" fill="none"/>
<path d="M141.7 204.9h1M141.0 204.5h1M143.0 162.5h1M142.3 179.6h1M141.9 207.3h1M140.1 164.4h1M141.7 188.5h1M142.6 188.7h1M140.9 183.8h1M145.4 193.8h1M143.5 191.8h1M142.6 165.7h1M143.0 221.8h1M139.6 195.2h1M140.3 196.2h1M142.7 185.4h1M140.4 179.0h1M144.2 182.8h1M142.1 194.3h1M141.3 183.9h1M140.0 215.2h1M142.6 195.3h1M141.3 172.2h1M143.3 179.9h1M142.3 172.2h1M145.6 185.6h1M142.7 199.4h1M140.5 189.3h1M140.3 175.0h1M143.5 203.0h1M142.9 173.8h1M142.1 197.3h1M141.6 182.3h1M142.5 198.2h1M141.3 165.3h1M141.4 184.6h1M141.9 190.6h1M143.9 186.4h1M142.8 177.7h1M142.1 194.4h1M140.5 200.5h1M140.9 182.8h1M143.0 194.8h1M142.3 178.0h1M145.1 185.3h1M142.3 187.6h1M142.4 183.0h1M141.3 172.2h1M140.5 196.4h1M144.7 189.2h1M142.4 183.4h1M141.6 213.0h1M142.5 194.1h1M143.7 146.7h1M143.2 186.0h1M142.3 188.2h1M143.2 195.2h1M144.6 180.9h1M142.8 199.5h1M141.4 184.2h1M143.1 189.9h1M142.1 190.4h1M146.2 180.7h1M140.6 189.3h1M139.5 177.9h1M139.3 203.5h1M143.4 183.7h1M138.9 170.2h1M140.6 227.6h1M140.0 186.6h1M143.4 194.6h1M141.6 178.8h1M143.7 184.1h1M139.8 176.7h1M141.3 206.8h1M141.9 162.6h1M141.6 198.3h1M140.8 179.1h1M140.3 189.8h1M142.2 178.9h1M142.4 193.8h1M141.2 185.6h1M143.1 182.7h1M139.8 194.4h1M142.1 192.3h1M142.5 208.4h1M140.1 214.1h1M142.9 196.6h1M140.8 187.1h1M142.0 193.0h1M139.7 185.9h1M139.3 216.2h1M141.2 177.5h1M141.4 195.1h1M143.6 195.6h1M139.6 181.4h1M142.5 188.3h1M143.4 179.4h1M141.7 158.4h1M142.0 195.3h1M142.4 175.0h1M142.1 186.7h1M140.8 179.2h1M142.4 195.6h1M145.1 173.4h1M141.7 198.1h1M141.5 197.6h1M139.4 210.5h1M143.6 188.1h1M140.2 180.9h1M141.0 206.1h1M141.4 190.2h1M143.1 181.6h1M141.2 155.8h1M143.4 207.3h1M142.4 174.0h1M142.9 182.9h1M138.1 182.1h1M139.2 182.2h1M140.4 198.4h1M139.8 188.7h1M142.0 164.5h1M142.3 177.0h1M140.7 166.3h1M142.2 177.9h1M142.0 186.0h1M144.3 183.0h1M142.3 205.7h1M141.5 203.2h1M142.9 159.8h1M144.4 184.4h1M140.4 182.7h1M142.4 189.7h1M145.3 162.4h1M142.7 178.8h1M141.5 180.1h1M141.0 208.9h1M142.4 185.8h1M142.6 165.0h1M141.9 179.2h1M140.7 205.4h1M142.5 194.9h1M141.3 187.9h1M142.1 194.8h1M142.4 193.0h1M141.0 193.3h1M142.8 193.5h1M141.7 189.8h1M142.1 190.7h1M142.1 179.6h1M141.4 188.2h1M140.5 152.3h1M142.0 181.0h1M142.5 194.6h1M142.7 182.8h1M142.4 162.8h1M143.0 174.0h1M141.0 193.1h1M141.2 173.5h1M141.8 172.3h1M143.3 170.9h1M142.0 201.2h1M142.6 217.7h1M143.7 190.8h1M140.4 194.9h1M144.0 199.3h1M143.0 195.1h1M142.0 191.8h1M142.7 186.7h1M144.1 174.5h1M144.0 178.7h1M140.6 182.2h1M140.9 182.9h1M143.1 203.3h1M143.3 149.6h1M143.9 176.3h1M142.7 203.9h1M143.8 210.4h1M142.2 173.1h1M140.8 213.0h1M141.6 188.9h1M141.4 173.9h1M144.4 205.2h1M142.4 195.5h1M141.1 184.8h1M141.4 200.0h1M144.0 178.7h1M139.6 197.6h1M145.2 172.9h1M144.9 190.7h1M142.6 164.9h1M141.9 166.4h1M143.1 217.9h1M142.5 176.7h1M141.3 184.8h1M142.4 206.3h1M142.3 188.1h1M140.7 173.7h1M142.5 184.9h1M141.9 193.3h1M211.5 124.5h1M210.8 137.5h1M209.8 122.0h1M209.1 131.9h1M210.3 133.4h1M210.8 138.0h1M211.3 142.4h1M210.2 132.1h1M209.4 122.8h1M210.2 123.4h1M211.3 125.7h1M211.6 126.0h1M210.1 138.4h1M210.5 140.5h1M209.5 136.0h1M209.8 134.2h1M209.0 125.0h1M209.9 134.0h1M209.3 124.5h1M208.7 127.0h1M211.5 126.7h1M208.6 121.4h1M209.3 127.7h1M210.4 136.9h1M209.8 135.2h1M210.1 135.4h1M211.1 136.4h1M208.8 135.9h1M209.9 115.1h1M210.5 129.2h1M209.1 117.6h1M210.6 132.9h1M210.7 131.6h1M211.9 126.3h1M210.3 131.5h1M211.5 139.7h1M209.7 139.2h1M209.6 136.6h1M208.9 118.5h1M211.0 133.9h1M209.9 119.0h1M209.7 126.9h1M210.8 131.8h1M208.5 125.5h1M209.2 126.0h1M209.1 138.8h1M211.1 129.5h1M209.5 124.3h1M210.2 146.2h1M211.0 134.3h1M211.2 126.8h1M209.8 134.1h1M209.2 139.3h1M209.7 122.1h1M211.0 128.9h1M209.9 140.5h1M211.4 126.3h1M211.2 120.7h1M211.4 132.4h1M210.2 141.6h1M210.6 118.7h1M210.5 137.3h1M211.1 142.0h1M209.9 122.4h1M208.9 127.6h1M209.7 132.3h1M211.6 127.6h1M209.1 131.3h1M210.4 135.9h1M211.4 134.4h1M210.5 126.0h1M210.5 138.0h1M209.9 142.5h1M210.2 136.4h1M208.8 138.8h1M210.1 127.6h1M210.4 132.8h1M209.6 122.1h1M210.5 135.9h1M210.4 129.2h1M210.0 117.9h1M209.8 126.0h1M210.1 115.2h1M209.1 127.5h1M208.6 121.5h1M211.4 129.3h1M209.8 131.3h1M209.3 131.6h1M209.8 123.7h1M210.2 135.7h1M210.2 121.9h1M210.3 126.5h1M209.8 132.2h1M210.6 136.7h1M209.9 148.1h1M211.0 136.2h1M211.7 139.0h1M211.5 139.3h1M209.9 137.0h1M211.2 136.7h1M211.3 135.6h1M209.5 129.8h1M209.4 122.1h1M211.9 137.2h1M211.3 122.2h1M210.9 128.0h1M210.8 136.4h1M211.3 125.8h1M211.3 138.4h1M210.5 123.7h1M209.2 119.6h1M208.9 136.7h1M208.9 125.8h1M210.5 127.8h1M210.6 139.6h1M209.8 135.8h1M211.1 131.0h1M211.1 130.9h1M210.4 137.6h1M210.0 130.0h1M210.7 138.5h1M209.3 139.1h1M210.4 132.8h1M211.4 124.9h1M209.5 123.5h1M210.4 134.7h1M209.0 134.6h1M209.2 132.9h1M212.0 139.2h1M210.3 137.9h1M210.9 115.1h1M209.6 136.7h1M210.7 124.1h1M210.6 134.3h1M210.2 131.5h1M211.9 136.7h1M211.0 119.6h1M209.9 137.1h1M210.5 130.1h1M209.5 133.7h1M210.1 120.4h1M212.4 130.3h1M208.7 121.3h1M209.7 128.3h1M209.5 130.7h1M211.5 124.2h1M211.2 137.1h1M209.3 121.5h1M210.9 138.4h1M210.9 135.7h1M209.7 136.0h1M209.3 135.6h1M211.0 136.5h1M211.4 135.9h1M211.2 132.8h1M211.7 131.3h1M211.5 126.9h1M209.3 133.1h1M210.2 128.2h1M209.6 137.3h1M210.6 137.9h1M209.9 134.1h1M209.4 127.0h1M210.9 137.1h1M210.4 140.0h1M209.6 141.1h1M210.1 130.7h1M209.5 141.1h1M209.4 141.3h1M211.5 118.8h1M210.2 123.6h1M209.8 131.4h1M210.0 136.2h1M210.6 119.3h1M209.2 122.3h1M209.1 135.2h1M210.1 131.9h1M208.5 128.9h1M208.4 131.2h1M209.7 134.5h1M210.7 137.2h1M210.0 134.1h1M209.4 147.0h1M210.4 123.8h1M210.3 139.2h1M209.6 139.4h1M210.0 140.6h1M210.3 125.4h1M210.4 139.9h1M208.6 124.6h1M210.6 123.8h1M208.7 131.5h1M209.8 129.4h1M209.9 133.3h1M209.5 120.3h1M210.0 129.2h1M210.1 131.7h1M209.6 120.3h1M210.6 141.6h1M210.7 132.2h1M265.1 94.1h1M264.0 86.3h1M264.9 90.2h1M264.3 97.9h1M265.3 102.9h1M263.9 94.6h1M264.4 96.2h1M264.8 98.2h1M264.7 89.9h1M263.7 104.7h1M264.5 99.2h1M264.9 99.7h1M264.8 101.7h1M264.3 98.4h1M265.1 91.7h1M264.3 92.0h1M265.5 93.5h1M265.3 93.7h1M264.9 98.9h1M264.9 93.5h1M264.5 105.1h1M265.6 98.7h1M264.5 97.9h1M265.8 92.4h1M264.9 98.3h1M264.6 95.0h1M265.3 94.2h1M264.7 97.2h1M264.1 96.2h1M265.4 101.3h1M263.8 94.9h1M265.8 90.8h1M264.3 97.4h1M264.4 91.8h1M264.4 96.7h1M265.0 97.6h1M264.0 87.5h1M265.2 95.3h1M264.9 97.7h1M265.6 101.4h1M264.5 99.6h1M265.1 103.0h1M265.3 107.3h1M266.0 97.4h1M264.3 98.6h1M264.4 95.7h1M265.4 92.7h1M263.7 92.9h1M264.2 87.6h1M265.1 98.6h1M265.0 101.5h1M264.7 106.3h1M264.9 100.5h1M264.4 98.2h1M264.6 90.1h1M264.9 91.2h1M265.3 87.6h1M263.7 102.4h1M265.2 94.1h1M263.7 92.5h1M264.9 105.7h1M264.5 104.5h1M263.9 104.1h1M265.2 92.3h1M265.6 96.2h1M264.4 94.0h1M265.3 93.1h1M264.4 95.1h1M264.7 89.6h1M265.6 105.1h1M264.7 98.4h1M264.7 90.6h1M265.0 90.8h1M264.0 93.0h1M265.0 93.6h1M265.3 99.4h1M265.4 103.0h1M264.5 99.6h1M265.2 97.7h1M264.5 98.7h1M264.9 99.6h1M264.8 93.2h1M264.0 95.5h1M265.8 97.0h1M264.8 92.0h1M265.0 96.4h1M264.9 94.7h1M264.2 91.5h1M264.5 91.1h1M264.2 97.4h1M264.8 93.4h1M264.7 101.5h1M264.1 99.2h1M263.7 103.9h1M265.1 106.7h1M265.8 96.7h1M265.2 98.2h1M263.7 100.7h1M265.2 100.1h1M265.0 90.1h1M264.4 77.1h1M264.9 92.1h1M264.5 101.3h1M264.8 81.7h1M265.4 88.6h1M264.1 90.7h1M265.5 89.2h1M265.0 98.9h1M263.6 102.8h1M264.4 104.1h1M264.6 103.2h1M265.9 84.9h1M264.1 92.8h1M265.3 104.2h1M264.9 98.2h1M265.2 91.0h1M264.5 96.5h1M265.5 92.2h1M265.2 92.0h1M264.1 96.4h1M264.9 96.2h1M264.4 93.1h1M265.3 88.6h1M264.4 90.0h1M264.8 102.3h1M264.6 92.4h1M264.6 96.1h1M264.5 91.0h1M265.0 103.4h1M264.9 92.4h1M265.5 96.0h1M265.0 95.1h1M265.0 89.2h1M264.8 94.9h1M264.7 96.6h1M266.3 90.9h1M264.6 89.2h1M264.8 93.1h1M265.3 95.2h1M264.7 96.0h1M265.9 101.3h1M265.0 101.3h1M264.7 87.7h1M264.0 98.5h1M265.0 92.8h1M264.3 100.0h1M264.5 89.6h1M265.2 96.4h1M264.1 103.5h1M264.5 93.0h1M264.4 94.0h1M265.6 94.1h1M265.2 92.3h1M265.5 102.2h1M265.3 104.6h1M264.9 85.8h1M264.1 92.6h1M265.2 96.4h1M264.9 96.9h1M264.6 95.3h1M264.5 95.8h1M265.2 104.0h1M265.6 95.1h1M264.5 93.6h1M263.8 100.5h1M265.3 97.8h1M264.8 99.2h1M265.3 102.3h1M264.0 108.0h1M264.4 102.8h1M264.2 102.2h1M266.3 101.0h1M264.8 103.9h1M264.8 96.5h1M264.5 95.1h1M264.9 92.3h1M265.5 97.6h1M264.1 92.0h1M264.8 94.1h1M265.6 90.6h1M264.8 95.2h1M264.7 99.0h1M265.1 93.0h1M264.5 97.8h1M264.8 93.2h1M263.9 97.5h1M264.5 98.4h1M264.4 95.4h1M264.7 86.6h1M264.8 97.3h1M264.7 96.2h1M265.6 85.6h1M264.2 92.3h1M264.4 93.2h1M264.1 94.0h1M265.1 92.3h1M265.2 100.0h1M265.3 97.0h1M263.7 95.1h1M263.4 87.9h1" stroke="#ff0000" stroke-opacity="0.3" stroke-width="0.9" fill="none"/>
<path d="M143.1 124.6h1M143.2 155.8h1M143.2 183.8h1M142.1 149.9h1M143.1 146.0h1M142.2 163.4h1M143.8 139.8h1M142.5 190.9h1M142.0 191.3h1M143.6 141.4h1M143.0 169.4h1M141.1 161.1h1M139.4 188.4h1M143.0 159.8h1M143.5 185.4h1M142.0 163.4h1M143.1 162.0h1M144.9 179.1h1M142.5 158.5h1M139.0 148.7h1M145.5 163.4h1M144.1 136.3h1M140.3 177.3h1M143.9 143.8h1M139.9 148.8h1M142.4 132.6h1M144.7 148.4h1M142.7 175.9h1M142.1 164.2h1M141.6 192.0h1M143.9 161.7h1M141.5 163.5h1M138.8 156.7h1M141.4 183.3h1M142.9 150.1h1M140.0 173.4h1M142.8 175.6h1M142.3 169.3h1M142.3 190.6h1M142.2 150.0h1M143.6 175.2h1M141.7 183.4h1M143.1 153.8h1M140.9 187.4h1M143.6 147.3h1M140.4 191.7h1M146.3 180.5h1M142.1 159.3h1M143.5 186.0h1M142.8 161.7h1M140.0 145.4h1M140.5 136.4h1M142.9 158.1h1M144.9 179.3h1M142.3 192.8h1M143.6 160.5h1M142.3 154.6h1M141.4 163.7h1M141.6 158.7h1M141.9 165.6h1M144.3 161.5h1M141.6 172.7h1M142.6 148.3h1M141.8 162.5h1M141.1 176.0h1M142.7 156.2h1M144.0 169.5h1M142.3 168.0h1M143.5 174.3h1M141.1 169.1h1M142.1 159.9h1M141.7 180.0h1M142.3 200.6h1M141.3 177.3h1M143.9 159.0h1M142.4 180.0h1M145.0 162.7h1M142.0 169.3h1M143.3 158.9h1M143.6 171.3h1M142.3 150.7h1M143.4 133.0h1M140.7 138.7h1M141.7 161.1h1M141.7 154.6h1M143.4 136.3h1M139.9 168.8h1M144.1 169.7h1M140.4 137.7h1M143.1 168.1h1M142.3 145.0h1M138.4 175.8h1M144.9 176.4h1M143.1 171.0h1M141.9 160.4h1M142.3 152.2h1M142.8 146.0h1M142.1 189.0h1M144.5 152.0h1M143.5 172.6h1M143.7 170.5h1M141.8 181.0h1M143.9 147.1h1M142.3 159.6h1M140.7 165.5h1M141.7 135.3h1M145.2 165.5h1M142.0 167.4h1M140.8 152.4h1M144.8 158.0h1M139.6 169.0h1M143.6 153.5h1M141.3 182.7h1M143.6 146.4h1M141.5 158.5h1M141.9 145.4h1M141.9 148.9h1M143.3 166.7h1M141.5 159.8h1M141.5 177.0h1M143.0 173.1h1M139.1 173.8h1M142.1 157.8h1M140.1 180.3h1M144.6 164.2h1M142.0 153.8h1M143.5 165.2h1M141.2 182.4h1M143.0 168.1h1M142.1 160.3h1M141.0 156.6h1M141.4 176.5h1M140.8 185.2h1M143.9 155.0h1M141.0 139.5h1M143.5 174.1h1M144.7 168.2h1M142.8 159.5h1M140.4 173.3h1M141.7 163.3h1M141.1 171.1h1M139.7 146.4h1M143.8 172.5h1M140.8 167.5h1M142.8 178.6h1M143.9 178.4h1M141.4 191.5h1M142.2 173.8h1M143.1 185.1h1M143.8 140.4h1M140.1 162.2h1M141.0 177.8h1M144.5 182.7h1M140.7 171.5h1M143.6 174.3h1M143.6 202.1h1M143.5 170.1h1M143.1 168.6h1M141.6 164.1h1M140.8 150.1h1M142.3 151.5h1M141.3 154.6h1M140.5 125.9h1M143.2 183.3h1M142.5 154.1h1M143.9 169.4h1M140.1 162.9h1M142.3 151.6h1M143.0 143.5h1M142.2 174.4h1M139.4 172.3h1M143.5 152.0h1M140.5 161.3h1M142.2 161.2h1M141.7 147.9h1M139.5 153.6h1M143.6 174.7h1M143.3 161.0h1M141.3 156.7h1M142.4 144.3h1M142.7 170.1h1M141.3 176.7h1M143.3 132.2h1M141.6 162.2h1M138.7 172.8h1M143.6 171.3h1M142.0 184.3h1M142.3 168.3h1M142.9 179.9h1M139.7 176.9h1M142.7 184.0h1M142.5 162.8h1M141.2 164.7h1M141.3 171.3h1M142.3 153.4h1M143.2 163.2h1M141.6 183.4h1M142.9 170.3h1M141.1 182.0h1M143.1 147.4h1M210.0 135.0h1M211.0 125.5h1M210.4 127.5h1M208.2 131.2h1M211.4 122.3h1M210.3 133.0h1M210.4 133.5h1M210.2 124.5h1M209.6 125.6h1M209.1 117.8h1M210.3 119.8h1M210.3 125.5h1M210.1 130.0h1M209.8 118.8h1M210.0 124.8h1M211.3 133.3h1M209.1 113.6h1M209.2 130.0h1M208.6 132.4h1M209.9 134.0h1M210.4 119.6h1M209.8 127.5h1M211.2 124.2h1M209.7 127.0h1M209.5 129.7h1M210.5 132.3h1M209.5 134.2h1M212.6 136.0h1M210.3 125.4h1M208.9 129.4h1M211.9 129.9h1M210.5 125.7h1M209.2 142.7h1M209.9 137.4h1M210.2 125.6h1M209.4 127.1h1M210.4 123.7h1M210.1 124.8h1M209.4 121.2h1M212.4 117.1h1M210.8 116.5h1M209.4 132.7h1M209.0 131.5h1M211.4 124.7h1M210.8 133.3h1M208.4 123.2h1M209.8 132.5h1M209.8 117.2h1M209.0 126.6h1M210.2 129.2h1M209.2 129.6h1M210.1 119.2h1M209.1 141.4h1M210.7 123.6h1M210.7 121.1h1M211.6 130.2h1M208.3 123.5h1M210.0 127.0h1M209.2 133.0h1M210.3 136.4h1M210.4 136.5h1M211.5 127.0h1M210.4 132.8h1M210.6 125.6h1M212.2 134.6h1M210.6 117.8h1M209.3 125.0h1M209.2 116.1h1M210.7 131.2h1M209.7 126.1h1M211.1 132.5h1M211.8 124.9h1M209.9 132.0h1M211.8 125.2h1M209.9 124.6h1M211.2 134.7h1M209.4 133.8h1M210.9 135.3h1M209.8 125.9h1M210.6 130.0h1M209.4 131.6h1M210.7 124.7h1M210.6 134.3h1M210.2 126.9h1M209.3 125.9h1M209.6 119.4h1M211.0 129.6h1M210.5 127.7h1M211.4 114.4h1M211.5 123.1h1M209.4 120.8h1M209.5 125.3h1M210.9 120.6h1M210.9 122.8h1M210.2 136.2h1M209.9 118.5h1M210.3 129.1h1M209.9 123.4h1M210.7 119.8h1M210.1 120.7h1M210.7 123.3h1M210.5 126.1h1M210.1 120.3h1M211.3 122.6h1M210.1 117.4h1M210.3 120.5h1M209.3 133.3h1M210.9 128.3h1M210.4 130.3h1M210.2 127.8h1M209.4 123.6h1M210.1 108.4h1M209.2 120.3h1M211.9 115.2h1M208.6 131.1h1M209.4 129.7h1M210.2 137.8h1M210.2 132.3h1M210.1 126.6h1M210.2 125.9h1M211.4 137.3h1M210.2 124.8h1M210.4 133.3h1M210.8 126.8h1M208.9 142.5h1M211.4 129.7h1M210.5 135.7h1M211.6 127.1h1M210.5 125.0h1M211.9 123.8h1M209.8 133.7h1M210.7 126.3h1M210.9 128.5h1M210.2 128.9h1M210.7 127.9h1M210.6 127.6h1M210.7 119.9h1M211.7 133.5h1M210.5 130.6h1M211.8 129.8h1M209.1 129.2h1M208.5 125.2h1M211.4 118.9h1M208.9 124.0h1M210.6 139.9h1M210.0 126.0h1M209.2 141.1h1M210.1 129.6h1M211.1 125.5h1M209.5 123.2h1M210.2 132.4h1M211.1 122.9h1M209.9 116.8h1M210.2 141.4h1M210.6 124.3h1M211.5 129.6h1M211.2 137.6h1M209.2 126.9h1M210.0 135.0h1M210.1 127.4h1M208.5 123.1h1M209.7 119.4h1M210.4 124.4h1M210.4 132.7h1M210.6 126.6h1M210.5 118.7h1M209.9 122.5h1M211.8 117.7h1M209.9 130.2h1M209.8 130.9h1M209.2 133.3h1M210.4 111.3h1M209.0 117.6h1M210.0 123.9h1M210.5 130.7h1M210.7 129.6h1M209.5 116.1h1M209.2 129.0h1M209.4 117.9h1M209.5 129.1h1M209.1 125.0h1M210.8 132.1h1M208.8 126.1h1M209.7 143.5h1M210.0 116.6h1M209.7 126.2h1M209.8 131.3h1M209.9 126.6h1M213.1 129.4h1M210.9 126.5h1M208.1 138.0h1M209.8 131.1h1M209.0 127.1h1M211.1 118.7h1M211.8 133.1h1M210.5 124.4h1M211.0 112.2h1M211.3 112.6h1M209.8 135.5h1M210.5 113.2h1M263.9 88.4h1M264.5 90.5h1M265.3 93.0h1M265.8 101.4h1M264.1 101.1h1M265.5 89.0h1M264.6 90.6h1M264.3 94.5h1M265.0 90.7h1M263.9 97.9h1M265.5 100.4h1M264.0 92.2h1M264.6 91.3h1M265.4 90.2h1M264.6 96.6h1M264.8 96.0h1M264.7 97.3h1M265.0 95.0h1M265.1 96.8h1M265.2 97.1h1M265.1 96.5h1M264.3 92.3h1M264.6 91.4h1M264.5 91.4h1M264.4 96.4h1M266.4 104.3h1M264.8 95.1h1M264.7 93.6h1M265.1 96.9h1M265.0 99.3h1M264.6 98.4h1M264.9 89.9h1M265.5 90.1h1M265.2 91.2h1M264.4 100.3h1M265.0 94.7h1M264.4 86.2h1M264.5 93.9h1M265.3 94.6h1M265.4 92.0h1M265.3 98.9h1M264.7 98.8h1M265.7 87.9h1M264.1 91.4h1M264.5 90.0h1M264.9 87.9h1M265.8 94.3h1M264.9 93.8h1M264.5 95.3h1M264.7 96.5h1M265.2 90.6h1M263.8 91.4h1M264.9 84.7h1M265.0 95.2h1M264.1 95.8h1M265.3 94.3h1M265.1 97.6h1M265.4 100.6h1M264.4 93.6h1M264.8 89.8h1M264.9 96.5h1M265.0 85.4h1M264.5 82.4h1M264.9 94.6h1M265.2 99.1h1M264.3 94.2h1M264.9 98.5h1M265.4 93.8h1M264.0 98.6h1M264.7 85.8h1M264.9 90.5h1M264.8 100.6h1M264.8 90.8h1M265.0 93.3h1M264.9 99.6h1M264.9 97.1h1M264.8 95.3h1M264.2 90.9h1M265.4 101.1h1M264.2 98.0h1M265.3 90.8h1M265.2 97.5h1M265.5 103.3h1M264.8 96.6h1M264.3 96.1h1M264.8 93.7h1M264.9 99.0h1M265.3 98.5h1M265.8 87.7h1M264.7 94.3h1M264.6 92.5h1M264.1 93.1h1M265.5 92.6h1M264.8 96.8h1M264.8 90.0h1M264.5 100.5h1M264.4 88.7h1M265.8 95.4h1M264.2 86.1h1M264.4 88.3h1M264.7 99.3h1M265.2 92.9h1M265.2 92.6h1M263.4 98.2h1M264.4 90.0h1M265.3 95.0h1M265.3 99.4h1M265.2 94.2h1M265.9 89.8h1M265.3 103.9h1M264.7 91.8h1M265.3 100.1h1M265.1 91.6h1M264.9 87.6h1M265.4 100.3h1M264.7 97.7h1M264.7 95.0h1M264.9 93.7h1M266.4 93.3h1M265.4 90.4h1M265.0 94.6h1M264.4 98.8h1M265.2 101.2h1M265.0 89.8h1M265.3 96.2h1M265.8 83.2h1M264.7 95.3h1M265.4 89.0h1M265.4 96.2h1M263.7 106.3h1M263.7 89.7h1M264.4 97.0h1M264.6 94.3h1M264.4 97.1h1M265.3 103.2h1M264.0 91.1h1M264.5 92.5h1M264.7 97.8h1M264.5 91.6h1M265.5 101.5h1M265.8 104.7h1M264.4 101.3h1M265.2 94.3h1M265.2 91.6h1M264.2 93.5h1M264.0 92.8h1M264.9 89.8h1M264.4 85.1h1M264.2 94.4h1M264.5 95.4h1M264.5 92.3h1M263.9 103.0h1M264.7 99.1h1M264.4 89.0h1M265.0 92.6h1M264.8 97.8h1M265.1 98.6h1M264.9 85.3h1M265.1 102.1h1M265.0 99.8h1M265.1 97.3h1M265.1 87.4h1M263.7 95.1h1M265.2 97.4h1M264.7 92.4h1M264.3 96.4h1M265.0 98.3h1M264.8 100.9h1M264.4 100.2h1M264.4 101.7h1M265.3 89.9h1M265.1 89.9h1M265.8 100.1h1M264.9 96.6h1M264.8 92.5h1M264.2 94.4h1M265.4 96.5h1M265.4 99.8h1M265.1 90.3h1M264.3 92.9h1M263.6 87.1h1M264.9 101.4h1M266.0 95.6h1M265.3 96.5h1M264.3 99.4h1M264.8 97.9h1M263.8 93.1h1M265.4 93.7h1M264.8 99.1h1M265.6 101.6h1M264.9 92.1h1M265.3 91.6h1M264.2 90.8h1M264.8 91.2h1M264.4 99.7h1M264.2 88.8h1M264.9 98.0h1M264.5 90.0h1M266.2 92.8h1M266.3 91.2h1" stroke="#10109a" stroke-opacity="0.3" stroke-width="0.9" fill="none"/>
<path d="M142.20 186.70 L210.20 131.00 L264.80 95.70" stroke="#ff2a2a" stroke-width="1.05" fill="none"/>
<circle cx="142.20" cy="186.70" r="1.05" fill="#ff2a2a"/>
<circle cx="210.20" cy="131.00" r="1.05" fill="#ff2a2a"/>
<circle cx="264.80" cy="95.70" r="1.05" fill="#ff2a2a"/>
<path d="M142.20 164.20 L210.20 126.20 L264.80 94.70" stroke="#2c2ca4" stroke-width="1.05" fill="none"/>
<circle cx="142.20" cy="164.20" r="1.05" fill="#2c2ca4"/>
<circle cx="210.20" cy="126.20" r="1.05" fill="#2c2ca4"/>
<circle cx="264.80" cy="94.70" r="1.05" fill="#2c2ca4"/>
<rect x="49.0" y="2.0" width="269.40" height="234.50" fill="none" stroke="#bcbcbc" stroke-width="1.3"/>
<path d="M49.00 235.60V237.30M49.00 1.20V2.90M102.88 235.60V237.30M102.88 1.20V2.90M156.76 235.60V237.30M156.76 1.20V2.90M210.64 235.60V237.30M210.64 1.20V2.90M264.52 235.60V237.30M264.52 1.20V2.90M318.40 235.60V237.30M318.40 1.20V2.90M48.20 28.06H49.90M317.50 28.06H319.20M48.20 54.11H49.90M317.50 54.11H319.20M48.20 80.17H49.90M317.50 80.17H319.20M48.20 106.22H49.90M317.50 106.22H319.20M48.20 132.28H49.90M317.50 132.28H319.20M48.20 158.33H49.90M317.50 158.33H319.20M48.20 184.39H49.90M317.50 184.39H319.20M48.20 210.44H49.90M317.50 210.44H319.20" stroke="#707070" stroke-width="1.2" fill="none"/>
<text x="47.0" y="32.56" font-size="11.3" text-anchor="end" class="t" fill="#000">0.00</text>
<text x="47.0" y="58.61" font-size="11.3" text-anchor="end" class="t" fill="#000">−0.05</text>
<text x="47.0" y="84.67" font-size="11.3" text-anchor="end" class="t" fill="#000">−0.10</text>
<text x="47.0" y="110.72" font-size="11.3" text-anchor="end" class="t" fill="#000">−0.15</text>
<text x="47.0" y="136.78" font-size="11.3" text-anchor="end" class="t" fill="#000">−0.20</text>
<text x="47.0" y="162.83" font-size="11.3" text-anchor="end" class="t" fill="#000">−0.25</text>
<text x="47.0" y="188.89" font-size="11.3" text-anchor="end" class="t" fill="#000">−0.30</text>
<text x="47.0" y="214.94" font-size="11.3" text-anchor="end" class="t" fill="#000">−0.35</text>
<text x="47.0" y="241.00" font-size="11.3" text-anchor="end" class="t" fill="#000">−0.40</text>
<text x="49.40" y="245.80" font-size="11.3" text-anchor="middle" class="t" fill="#000">−12</text>
<text x="103.28" y="245.80" font-size="11.3" text-anchor="middle" class="t" fill="#000">−11</text>
<text x="157.16" y="245.80" font-size="11.3" text-anchor="middle" class="t" fill="#000">−10</text>
<text x="211.04" y="245.80" font-size="11.3" text-anchor="middle" class="t" fill="#000">−9</text>
<text x="264.92" y="245.80" font-size="11.3" text-anchor="middle" class="t" fill="#000">−8</text>
<text x="318.80" y="245.80" font-size="11.3" text-anchor="middle" class="t" fill="#000">−7</text>
<text x="176.10" y="262.10" font-size="20" font-style="italic" fill="#000">x</text>
<text x="185.30" y="264.30" font-size="14" fill="#000">0</text>
<g stroke="#000" fill="none" stroke-width="1.2"><path d="M1.7 105.5L10.1 100.9L18.9 105.5"/><path d="M1.7 131.9L10.1 136.1L18.9 131.9"/><path d="M8.8 112.4H16.8M16.8 108.4V115.6"/></g>
<text class="b" transform="translate(14.9,129.6) rotate(-90)" font-size="18.2" fill="#000">Δ</text>
<text x="308.40" y="33.30" font-size="19" text-anchor="end" fill="#000">large downward deviation</text>
<text x="143.00" y="219.54" font-size="13.8" text-anchor="middle" class="s" fill="#000">−0.044<tspan dx="2" dy="0.8">±</tspan><tspan dx="2" dy="-0.8">0.034</tspan></text>
<text x="211.00" y="193.49" font-size="13.8" text-anchor="middle" class="s" fill="#000">−0.009<tspan dx="2" dy="0.8">±</tspan><tspan dx="2" dy="-0.8">0.021</tspan></text>
<text x="265.60" y="167.43" font-size="13.8" text-anchor="middle" class="s" fill="#000">−0.001<tspan dx="2" dy="0.8">±</tspan><tspan dx="2" dy="-0.8">0.013</tspan></text>
</g>
</svg></body></html>
